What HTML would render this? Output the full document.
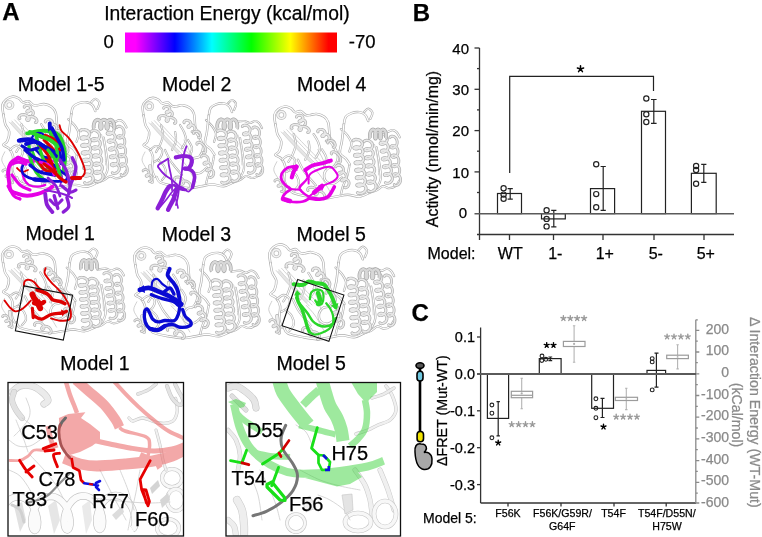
<!DOCTYPE html>
<html><head><meta charset="utf-8">
<style>
html,body{margin:0;padding:0;background:#fff;}
body{width:762px;height:537px;overflow:hidden;}
svg{display:block;will-change:transform;}
text{font-family:"Liberation Sans",sans-serif;stroke:currentColor;stroke-width:0.25px;}
</style></head>
<body>
<svg width="762" height="537" viewBox="0 0 762 537">
<defs>
<linearGradient id="cb" x1="0" x2="1" y1="0" y2="0">
<stop offset="0" stop-color="#ff00ff"/>
<stop offset="0.05" stop-color="#ff00ff"/>
<stop offset="0.235" stop-color="#0000ff"/>
<stop offset="0.41" stop-color="#00ffff"/>
<stop offset="0.596" stop-color="#00ff00"/>
<stop offset="0.78" stop-color="#ffff00"/>
<stop offset="0.96" stop-color="#ff0000"/>
<stop offset="1" stop-color="#ff0000"/>
</linearGradient>
</defs>
<defs><g id="prot" fill="none" stroke-linecap="round" stroke-linejoin="round"><path d="M143.6 115.5C143.4 114.0 142.2 108.7 142.7 106.2C143.2 103.7 144.7 102.0 146.4 100.6C148.1 99.2 150.9 97.9 152.9 97.8C154.9 97.7 156.9 98.8 158.5 99.7C160.1 100.6 160.6 103.0 162.2 103.4C163.8 103.9 166.1 101.9 167.8 102.4C169.5 102.9 170.9 105.6 172.5 106.2C174.1 106.8 175.4 106.4 177.1 106.2C178.8 106.0 180.5 104.9 182.7 105.2C184.9 105.5 188.2 106.6 190.1 108.0C192.0 109.4 193.1 111.4 193.9 113.6C194.7 115.8 194.5 118.6 194.8 121.1C195.1 123.6 194.9 126.7 195.7 128.5C196.5 130.3 198.9 131.6 199.5 132.2" stroke="#aeaeae" stroke-width="2.4" fill="none"/><path d="M143.6 115.5C143.4 114.0 142.2 108.7 142.7 106.2C143.2 103.7 144.7 102.0 146.4 100.6C148.1 99.2 150.9 97.9 152.9 97.8C154.9 97.7 156.9 98.8 158.5 99.7C160.1 100.6 160.6 103.0 162.2 103.4C163.8 103.9 166.1 101.9 167.8 102.4C169.5 102.9 170.9 105.6 172.5 106.2C174.1 106.8 175.4 106.4 177.1 106.2C178.8 106.0 180.5 104.9 182.7 105.2C184.9 105.5 188.2 106.6 190.1 108.0C192.0 109.4 193.1 111.4 193.9 113.6C194.7 115.8 194.5 118.6 194.8 121.1C195.1 123.6 194.9 126.7 195.7 128.5C196.5 130.3 198.9 131.6 199.5 132.2" stroke="#ffffff" stroke-width="1.2" fill="none"/><path d="M143.6 115.5C143.9 117.0 144.5 122.0 145.4 124.8C146.3 127.6 148.9 129.4 149.2 132.2C149.5 135.0 148.2 139.4 147.3 141.6C146.4 143.8 143.3 144.1 143.6 145.3C143.9 146.5 147.6 147.1 149.2 149.0C150.8 150.9 152.4 153.1 152.9 156.5C153.4 159.9 151.7 166.1 152.0 169.5C152.3 172.9 154.3 175.7 154.8 176.9" stroke="#aeaeae" stroke-width="2.4" fill="none"/><path d="M143.6 115.5C143.9 117.0 144.5 122.0 145.4 124.8C146.3 127.6 148.9 129.4 149.2 132.2C149.5 135.0 148.2 139.4 147.3 141.6C146.4 143.8 143.3 144.1 143.6 145.3C143.9 146.5 147.6 147.1 149.2 149.0C150.8 150.9 152.4 153.1 152.9 156.5C153.4 159.9 151.7 166.1 152.0 169.5C152.3 172.9 154.3 175.7 154.8 176.9" stroke="#ffffff" stroke-width="1.2" fill="none"/><path d="M156.6 176.9C157.2 177.8 157.2 180.9 160.3 182.5C163.4 184.1 170.2 185.3 175.2 186.2C180.2 187.1 185.8 188.1 190.1 188.1C194.4 188.1 197.6 186.8 201.3 186.2C205.0 185.6 208.8 184.4 212.5 184.4C216.2 184.4 220.3 186.5 223.7 186.2C227.1 185.9 231.4 183.1 233.0 182.5" stroke="#aeaeae" stroke-width="2.4" fill="none"/><path d="M156.6 176.9C157.2 177.8 157.2 180.9 160.3 182.5C163.4 184.1 170.2 185.3 175.2 186.2C180.2 187.1 185.8 188.1 190.1 188.1C194.4 188.1 197.6 186.8 201.3 186.2C205.0 185.6 208.8 184.4 212.5 184.4C216.2 184.4 220.3 186.5 223.7 186.2C227.1 185.9 231.4 183.1 233.0 182.5" stroke="#ffffff" stroke-width="1.2" fill="none"/><path d="M195.7 132.2C196.3 133.1 198.2 135.3 199.5 137.8C200.8 140.3 203.2 144.0 203.2 147.1C203.2 150.2 201.1 154.6 199.5 156.5C197.9 158.4 195.5 157.1 193.9 158.3C192.3 159.5 190.4 161.7 190.1 163.9C189.8 166.1 190.4 169.8 192.0 171.3C193.6 172.9 197.0 173.8 199.5 173.2C202.0 172.6 205.7 168.5 206.9 167.6" stroke="#aeaeae" stroke-width="2.4" fill="none"/><path d="M195.7 132.2C196.3 133.1 198.2 135.3 199.5 137.8C200.8 140.3 203.2 144.0 203.2 147.1C203.2 150.2 201.1 154.6 199.5 156.5C197.9 158.4 195.5 157.1 193.9 158.3C192.3 159.5 190.4 161.7 190.1 163.9C189.8 166.1 190.4 169.8 192.0 171.3C193.6 172.9 197.0 173.8 199.5 173.2C202.0 172.6 205.7 168.5 206.9 167.6" stroke="#ffffff" stroke-width="1.2" fill="none"/><path d="M175.2 132.2C175.3 133.2 176.0 136.1 176.0 138.0C176.0 139.9 175.9 141.4 175.2 143.4C174.5 145.4 172.5 148.9 172.0 150.0" stroke="#aeaeae" stroke-width="2.2" fill="none"/><path d="M175.2 132.2C175.3 133.2 176.0 136.1 176.0 138.0C176.0 139.9 175.9 141.4 175.2 143.4C174.5 145.4 172.5 148.9 172.0 150.0" stroke="#ffffff" stroke-width="1.0" fill="none"/><path d="M161.0 125.0C161.3 126.7 163.2 131.7 163.0 135.0C162.8 138.3 161.2 142.2 160.0 145.0C158.8 147.8 156.7 150.8 156.0 152.0" stroke="#aeaeae" stroke-width="2.2" fill="none"/><path d="M161.0 125.0C161.3 126.7 163.2 131.7 163.0 135.0C162.8 138.3 161.2 142.2 160.0 145.0C158.8 147.8 156.7 150.8 156.0 152.0" stroke="#ffffff" stroke-width="1.0" fill="none"/><path d="M149.2 122.8C151.8 125.7 159.7 134.4 165.0 140.0C170.3 145.6 178.2 153.8 180.8 156.5" stroke="#c2c2c2" stroke-width="0.7" fill="none"/><path d="M151.8 121.8C154.4 124.6 162.3 133.3 167.6 139.0C172.9 144.6 180.8 152.7 183.4 155.5" stroke="#c2c2c2" stroke-width="0.7" fill="none"/><path d="M154.4 120.7C157.0 123.6 164.9 132.3 170.2 137.9C175.5 143.5 183.4 151.7 186.0 154.4" stroke="#c2c2c2" stroke-width="0.7" fill="none"/><path d="M157.0 119.7C159.6 122.5 167.5 131.3 172.8 136.9C178.1 142.5 186.0 150.6 188.6 153.4" stroke="#c2c2c2" stroke-width="0.7" fill="none"/><path d="M152.0 124.0C154.3 126.7 161.7 135.3 166.0 140.0C170.3 144.7 176.0 150.0 178.0 152.0" stroke="#dcdcdc" stroke-width="3.2" fill="none" opacity="0.7"/><path d="M178.0 156.0C179.3 157.5 183.7 161.8 186.0 165.0C188.3 168.2 190.3 172.2 192.0 175.0C193.7 177.8 195.3 180.8 196.0 182.0" stroke="#c6c6c6" stroke-width="0.8" fill="none"/><path d="M150.0 150.0C151.0 149.3 154.0 146.0 156.0 146.0C158.0 146.0 161.3 148.0 162.0 150.0C162.7 152.0 161.3 156.0 160.0 158.0C158.7 160.0 155.0 161.3 154.0 162.0" stroke="#aeaeae" stroke-width="2.2" fill="none"/><path d="M150.0 150.0C151.0 149.3 154.0 146.0 156.0 146.0C158.0 146.0 161.3 148.0 162.0 150.0C162.7 152.0 161.3 156.0 160.0 158.0C158.7 160.0 155.0 161.3 154.0 162.0" stroke="#ffffff" stroke-width="1.0" fill="none"/><path d="M158.0 160.0C159.0 161.0 162.7 163.7 164.0 166.0C165.3 168.3 166.3 171.7 166.0 174.0C165.7 176.3 162.7 179.0 162.0 180.0" stroke="#aeaeae" stroke-width="2.2" fill="none"/><path d="M158.0 160.0C159.0 161.0 162.7 163.7 164.0 166.0C165.3 168.3 166.3 171.7 166.0 174.0C165.7 176.3 162.7 179.0 162.0 180.0" stroke="#ffffff" stroke-width="1.0" fill="none"/><path d="M180.0 125.0C180.7 126.2 183.0 129.5 184.0 132.0C185.0 134.5 186.3 137.3 186.0 140.0C185.7 142.7 182.7 146.7 182.0 148.0" stroke="#aeaeae" stroke-width="2.2" fill="none"/><path d="M180.0 125.0C180.7 126.2 183.0 129.5 184.0 132.0C185.0 134.5 186.3 137.3 186.0 140.0C185.7 142.7 182.7 146.7 182.0 148.0" stroke="#ffffff" stroke-width="1.0" fill="none"/><path d="M165.0 150.0C165.8 151.7 168.2 157.0 170.0 160.0C171.8 163.0 174.0 165.5 176.0 168.0C178.0 170.5 181.0 173.8 182.0 175.0" stroke="#aeaeae" stroke-width="2.2" fill="none"/><path d="M165.0 150.0C165.8 151.7 168.2 157.0 170.0 160.0C171.8 163.0 174.0 165.5 176.0 168.0C178.0 170.5 181.0 173.8 182.0 175.0" stroke="#ffffff" stroke-width="1.0" fill="none"/><path d="M188.0 140.0C188.7 141.3 191.7 145.3 192.0 148.0C192.3 150.7 190.3 154.7 190.0 156.0" stroke="#aeaeae" stroke-width="2.2" fill="none"/><path d="M188.0 140.0C188.7 141.3 191.7 145.3 192.0 148.0C192.3 150.7 190.3 154.7 190.0 156.0" stroke="#ffffff" stroke-width="1.0" fill="none"/><path d="M150.0 166.0C150.2 167.3 150.7 171.3 151.0 174.0C151.3 176.7 151.8 180.7 152.0 182.0" stroke="#aeaeae" stroke-width="3.6" fill="none"/><path d="M150.0 166.0C150.2 167.3 150.7 171.3 151.0 174.0C151.3 176.7 151.8 180.7 152.0 182.0" stroke="#eeeeee" stroke-width="2.4" fill="none"/><path d="M206.0 120.0C207.0 121.0 210.3 123.7 212.0 126.0C213.7 128.3 215.7 131.3 216.0 134.0C216.3 136.7 214.3 140.7 214.0 142.0" stroke="#aeaeae" stroke-width="2.2" fill="none"/><path d="M206.0 120.0C207.0 121.0 210.3 123.7 212.0 126.0C213.7 128.3 215.7 131.3 216.0 134.0C216.3 136.7 214.3 140.7 214.0 142.0" stroke="#ffffff" stroke-width="1.0" fill="none"/><path d="M240.0 178.0C240.7 176.3 243.7 172.7 244.0 168.0C244.3 163.3 242.7 155.0 242.0 150.0C241.3 145.0 240.3 140.0 240.0 138.0" stroke="#aeaeae" stroke-width="2.2" fill="none"/><path d="M240.0 178.0C240.7 176.3 243.7 172.7 244.0 168.0C244.3 163.3 242.7 155.0 242.0 150.0C241.3 145.0 240.3 140.0 240.0 138.0" stroke="#ffffff" stroke-width="1.0" fill="none"/><path d="M184.0 140.0C184.8 141.7 187.7 146.7 189.0 150.0C190.3 153.3 191.5 158.3 192.0 160.0" stroke="#c6c6c6" stroke-width="0.8" fill="none"/><path d="M145.0 152.0C144.5 153.3 141.8 157.3 142.0 160.0C142.2 162.7 145.3 166.7 146.0 168.0" stroke="#c6c6c6" stroke-width="0.8" fill="none"/><path d="M208.8 115.5C209.1 114.2 209.4 109.9 210.6 108.0C211.8 106.1 214.0 105.1 216.2 104.3C218.4 103.5 221.5 103.1 223.7 103.4C225.9 103.7 227.8 104.8 229.2 106.2C230.6 107.6 231.5 111.0 232.0 112.0" stroke="#aeaeae" stroke-width="2.4" fill="none"/><path d="M208.8 115.5C209.1 114.2 209.4 109.9 210.6 108.0C211.8 106.1 214.0 105.1 216.2 104.3C218.4 103.5 221.5 103.1 223.7 103.4C225.9 103.7 227.8 104.8 229.2 106.2C230.6 107.6 231.5 111.0 232.0 112.0" stroke="#ffffff" stroke-width="1.2" fill="none"/><path d="M208.8 115.5C208.5 118.3 207.5 127.5 206.9 132.2C206.3 136.8 204.4 140.6 205.0 143.4C205.6 146.2 209.0 147.1 210.6 149.0C212.2 150.9 213.8 153.7 214.4 154.6" stroke="#aeaeae" stroke-width="2.4" fill="none"/><path d="M208.8 115.5C208.5 118.3 207.5 127.5 206.9 132.2C206.3 136.8 204.4 140.6 205.0 143.4C205.6 146.2 209.0 147.1 210.6 149.0C212.2 150.9 213.8 153.7 214.4 154.6" stroke="#ffffff" stroke-width="1.2" fill="none"/><path d="M236.0 122.0C237.3 121.8 241.7 120.8 244.0 121.0C246.3 121.2 247.9 123.0 249.7 123.0C251.5 123.0 253.4 121.0 255.0 121.0C256.6 121.0 257.8 121.8 259.0 123.0C260.2 124.2 261.5 127.2 262.0 128.0" stroke="#aeaeae" stroke-width="2.2" fill="none"/><path d="M236.0 122.0C237.3 121.8 241.7 120.8 244.0 121.0C246.3 121.2 247.9 123.0 249.7 123.0C251.5 123.0 253.4 121.0 255.0 121.0C256.6 121.0 257.8 121.8 259.0 123.0C260.2 124.2 261.5 127.2 262.0 128.0" stroke="#ffffff" stroke-width="1.0" fill="none"/><path d="M233.0 182.5C234.2 182.1 237.8 181.1 240.0 180.0C242.2 178.9 244.0 176.3 246.0 176.0C248.0 175.7 250.0 178.0 252.0 178.0C254.0 178.0 256.3 177.3 258.0 176.0C259.7 174.7 261.3 171.0 262.0 170.0" stroke="#aeaeae" stroke-width="2.2" fill="none"/><path d="M233.0 182.5C234.2 182.1 237.8 181.1 240.0 180.0C242.2 178.9 244.0 176.3 246.0 176.0C248.0 175.7 250.0 178.0 252.0 178.0C254.0 178.0 256.3 177.3 258.0 176.0C259.7 174.7 261.3 171.0 262.0 170.0" stroke="#ffffff" stroke-width="1.0" fill="none"/><path d="M228.0 103.4C228.7 102.8 230.7 99.9 232.0 100.0C233.3 100.1 235.7 102.3 236.0 104.0C236.3 105.7 234.3 109.0 234.0 110.0" stroke="#aeaeae" stroke-width="2.2" fill="none"/><path d="M228.0 103.4C228.7 102.8 230.7 99.9 232.0 100.0C233.3 100.1 235.7 102.3 236.0 104.0C236.3 105.7 234.3 109.0 234.0 110.0" stroke="#ffffff" stroke-width="1.0" fill="none"/><path d="M214.0 156.0C213.7 157.7 213.0 162.7 212.0 166.0C211.0 169.3 209.0 173.0 208.0 176.0C207.0 179.0 206.3 182.7 206.0 184.0" stroke="#aeaeae" stroke-width="2.2" fill="none"/><path d="M214.0 156.0C213.7 157.7 213.0 162.7 212.0 166.0C211.0 169.3 209.0 173.0 208.0 176.0C207.0 179.0 206.3 182.7 206.0 184.0" stroke="#ffffff" stroke-width="1.0" fill="none"/><path d="M238.0 135.0C238.5 137.5 240.3 145.0 241.0 150.0C241.7 155.0 241.8 162.5 242.0 165.0" stroke="#c6c6c6" stroke-width="0.8" fill="none"/><circle cx="149.3" cy="106.2" r="3.4" fill="none" stroke="#bcbcbc" stroke-width="2.9"/><circle cx="149.3" cy="106.2" r="3.4" fill="none" stroke="#f3f3f3" stroke-width="1.6"/><path d="M163.7 108.3L163.7 107.8L164.1 107.3L164.8 106.9L165.8 106.5L166.8 106.5L167.9 106.7L168.9 107.2L169.5 108.0L169.8 109.0L169.8 110.0L169.4 111.1L168.8 112.0L168.0 112.6L167.2 112.9L166.6 113.0L166.2 112.8L166.2 112.3L166.6 111.8L167.3 111.4L168.2 111.0L169.3 111.0L170.4 111.2L171.4 111.7L172.0 112.5L172.3 113.5L172.3 114.5L171.9 115.6L171.2 116.5L170.5 117.1L169.7 117.4L169.1 117.5L168.7 117.3" fill="none" stroke="#aeaeae" stroke-width="2.9" stroke-linejoin="round"/><path d="M163.7 108.3L163.7 107.8L164.1 107.3L164.8 106.9L165.8 106.5L166.8 106.5L167.9 106.7L168.9 107.2L169.5 108.0L169.8 109.0L169.8 110.0L169.4 111.1L168.8 112.0L168.0 112.6L167.2 112.9L166.6 113.0L166.2 112.8L166.2 112.3L166.6 111.8L167.3 111.4L168.2 111.0L169.3 111.0L170.4 111.2L171.4 111.7L172.0 112.5L172.3 113.5L172.3 114.5L171.9 115.6L171.2 116.5L170.5 117.1L169.7 117.4L169.1 117.5L168.7 117.3" fill="none" stroke="#e9e9e9" stroke-width="1.6" stroke-linejoin="round"/><path d="M159.4 119.3L158.9 119.0L158.6 118.4L158.7 117.6L159.2 116.8L160.2 116.1L161.4 115.6L162.8 115.5L164.4 115.7L165.8 116.3L167.0 117.1L167.8 118.1L168.2 119.2L168.3 120.2L168.0 120.9L167.5 121.3L166.9 121.3L166.4 121.0L166.1 120.4L166.2 119.6L166.8 118.8L167.7 118.1L168.9 117.6L170.3 117.5L171.9 117.7L173.3 118.3L174.5 119.1L175.3 120.1L175.8 121.2L175.8 122.2L175.5 122.9L175.0 123.3L174.4 123.3" fill="none" stroke="#aeaeae" stroke-width="2.9" stroke-linejoin="round"/><path d="M159.4 119.3L158.9 119.0L158.6 118.4L158.7 117.6L159.2 116.8L160.2 116.1L161.4 115.6L162.8 115.5L164.4 115.7L165.8 116.3L167.0 117.1L167.8 118.1L168.2 119.2L168.3 120.2L168.0 120.9L167.5 121.3L166.9 121.3L166.4 121.0L166.1 120.4L166.2 119.6L166.8 118.8L167.7 118.1L168.9 117.6L170.3 117.5L171.9 117.7L173.3 118.3L174.5 119.1L175.3 120.1L175.8 121.2L175.8 122.2L175.5 122.9L175.0 123.3L174.4 123.3" fill="none" stroke="#e9e9e9" stroke-width="1.6" stroke-linejoin="round"/><path d="M184.1 122.7L183.9 122.3L184.1 121.7L184.7 121.0L185.6 120.5L186.7 120.3L187.9 120.4L189.0 120.8L189.9 121.5L190.6 122.5L190.9 123.7L190.8 124.9L190.4 126.0L189.8 126.8L189.1 127.3L188.5 127.4L188.1 127.2L187.9 126.8L188.1 126.2L188.7 125.5L189.6 125.0L190.7 124.8L191.9 124.9L193.0 125.3L193.9 126.0L194.6 127.0L194.9 128.2L194.8 129.4L194.4 130.4L193.8 131.3L193.1 131.8L192.5 131.9L192.1 131.7" fill="none" stroke="#aeaeae" stroke-width="2.9" stroke-linejoin="round"/><path d="M184.1 122.7L183.9 122.3L184.1 121.7L184.7 121.0L185.6 120.5L186.7 120.3L187.9 120.4L189.0 120.8L189.9 121.5L190.6 122.5L190.9 123.7L190.8 124.9L190.4 126.0L189.8 126.8L189.1 127.3L188.5 127.4L188.1 127.2L187.9 126.8L188.1 126.2L188.7 125.5L189.6 125.0L190.7 124.8L191.9 124.9L193.0 125.3L193.9 126.0L194.6 127.0L194.9 128.2L194.8 129.4L194.4 130.4L193.8 131.3L193.1 131.8L192.5 131.9L192.1 131.7" fill="none" stroke="#e9e9e9" stroke-width="1.6" stroke-linejoin="round"/><path d="M193.6 133.7L193.4 133.3L193.4 132.7L193.8 132.1L194.5 131.6L195.5 131.3L196.6 131.3L197.8 131.6L198.9 132.3L199.8 133.2L200.3 134.3L200.6 135.4L200.5 136.4L200.2 137.2L199.6 137.7L199.1 137.9L198.6 137.7" fill="none" stroke="#aeaeae" stroke-width="2.7" stroke-linejoin="round"/><path d="M193.6 133.7L193.4 133.3L193.4 132.7L193.8 132.1L194.5 131.6L195.5 131.3L196.6 131.3L197.8 131.6L198.9 132.3L199.8 133.2L200.3 134.3L200.6 135.4L200.5 136.4L200.2 137.2L199.6 137.7L199.1 137.9L198.6 137.7" fill="none" stroke="#e9e9e9" stroke-width="1.4" stroke-linejoin="round"/><path d="M197.1 144.4L196.8 143.8L196.9 143.0L197.5 142.5L198.4 142.2L199.7 142.4L201.1 143.0L202.6 144.1L203.9 145.6L205.0 147.2L205.6 149.0L205.8 150.5L205.6 151.8L205.1 152.6L204.4 153.0L203.7 152.9L203.1 152.4" fill="none" stroke="#aeaeae" stroke-width="2.7" stroke-linejoin="round"/><path d="M197.1 144.4L196.8 143.8L196.9 143.0L197.5 142.5L198.4 142.2L199.7 142.4L201.1 143.0L202.6 144.1L203.9 145.6L205.0 147.2L205.6 149.0L205.8 150.5L205.6 151.8L205.1 152.6L204.4 153.0L203.7 152.9L203.1 152.4" fill="none" stroke="#e9e9e9" stroke-width="1.4" stroke-linejoin="round"/><path d="M217.8 131.3L218.1 130.8L219.0 130.3L220.3 130.1L221.9 130.3L223.6 130.8L225.0 131.7L226.0 132.9L226.5 134.3L226.3 135.8L225.5 137.1L224.2 138.2L222.6 139.0L221.0 139.4L219.7 139.4L218.7 139.1L218.4 138.6L218.7 138.1L219.5 137.6L220.9 137.4L222.5 137.6L224.2 138.1L225.6 139.0L226.6 140.2L227.0 141.6L226.8 143.1L226.0 144.4L224.8 145.5L223.2 146.3L221.6 146.7L220.3 146.7L219.3 146.4L219.0 145.9L219.2 145.4L220.1 144.9L221.5 144.7L223.1 144.8L224.7 145.4L226.2 146.3L227.2 147.5L227.6 148.9L227.4 150.3L226.6 151.7L225.3 152.8L223.8 153.6L222.2 154.0L220.8 154.0L219.9 153.7L219.5 153.2L219.8 152.6L220.7 152.2L222.0 152.0L223.7 152.1L225.3 152.7L226.7 153.6L227.8 154.8L228.2 156.2L228.0 157.6L227.2 159.0L225.9 160.1L224.3 160.9L222.8 161.3L221.4 161.3L220.5 161.0L220.1 160.5L220.4 159.9L221.3 159.5L222.6 159.3L224.2 159.4L225.9 159.9L227.3 160.8L228.3 162.1L228.8 163.5L228.6 164.9L227.7 166.3L226.5 167.4L224.9 168.2L223.3 168.5L222.0 168.6L221.0 168.3L220.7 167.8L220.9 167.2L221.8 166.8L223.2 166.6L224.8 166.7L226.5 167.2L227.9 168.1L228.9 169.3L229.3 170.7L229.1 172.2L228.3 173.6L227.0 174.7L225.5 175.4L223.9 175.8L222.5 175.8L221.6 175.5L221.2 175.0L221.5 174.5L222.4 174.1L223.7 173.9L225.4 174.0L227.0 174.5L228.5 175.4L229.5 176.6L229.9 178.0L229.7 179.5L228.9 180.8L227.6 182.0L226.1 182.7L224.5 183.1L223.1 183.1L222.2 182.8L221.8 182.3" fill="none" stroke="#aeaeae" stroke-width="3.1" stroke-linejoin="round"/><path d="M217.8 131.3L218.1 130.8L219.0 130.3L220.3 130.1L221.9 130.3L223.6 130.8L225.0 131.7L226.0 132.9L226.5 134.3L226.3 135.8L225.5 137.1L224.2 138.2L222.6 139.0L221.0 139.4L219.7 139.4L218.7 139.1L218.4 138.6L218.7 138.1L219.5 137.6L220.9 137.4L222.5 137.6L224.2 138.1L225.6 139.0L226.6 140.2L227.0 141.6L226.8 143.1L226.0 144.4L224.8 145.5L223.2 146.3L221.6 146.7L220.3 146.7L219.3 146.4L219.0 145.9L219.2 145.4L220.1 144.9L221.5 144.7L223.1 144.8L224.7 145.4L226.2 146.3L227.2 147.5L227.6 148.9L227.4 150.3L226.6 151.7L225.3 152.8L223.8 153.6L222.2 154.0L220.8 154.0L219.9 153.7L219.5 153.2L219.8 152.6L220.7 152.2L222.0 152.0L223.7 152.1L225.3 152.7L226.7 153.6L227.8 154.8L228.2 156.2L228.0 157.6L227.2 159.0L225.9 160.1L224.3 160.9L222.8 161.3L221.4 161.3L220.5 161.0L220.1 160.5L220.4 159.9L221.3 159.5L222.6 159.3L224.2 159.4L225.9 159.9L227.3 160.8L228.3 162.1L228.8 163.5L228.6 164.9L227.7 166.3L226.5 167.4L224.9 168.2L223.3 168.5L222.0 168.6L221.0 168.3L220.7 167.8L220.9 167.2L221.8 166.8L223.2 166.6L224.8 166.7L226.5 167.2L227.9 168.1L228.9 169.3L229.3 170.7L229.1 172.2L228.3 173.6L227.0 174.7L225.5 175.4L223.9 175.8L222.5 175.8L221.6 175.5L221.2 175.0L221.5 174.5L222.4 174.1L223.7 173.9L225.4 174.0L227.0 174.5L228.5 175.4L229.5 176.6L229.9 178.0L229.7 179.5L228.9 180.8L227.6 182.0L226.1 182.7L224.5 183.1L223.1 183.1L222.2 182.8L221.8 182.3" fill="none" stroke="#e9e9e9" stroke-width="1.8" stroke-linejoin="round"/><path d="M228.2 132.3L228.5 131.7L229.2 131.2L230.5 131.0L231.9 131.2L233.4 131.8L234.8 132.8L235.7 134.1L236.1 135.7L236.0 137.3L235.3 138.8L234.1 140.0L232.7 140.8L231.3 141.2L230.1 141.2L229.2 140.9L228.9 140.3L229.1 139.7L229.9 139.2L231.1 139.0L232.6 139.2L234.1 139.8L235.4 140.8L236.4 142.1L236.8 143.7L236.6 145.3L235.9 146.8L234.8 148.0L233.4 148.8L232.0 149.2L230.7 149.2L229.9 148.9L229.5 148.3L229.8 147.7L230.6 147.2L231.8 147.0L233.3 147.2L234.8 147.8L236.1 148.8L237.0 150.1L237.5 151.7L237.3 153.3L236.6 154.8L235.5 156.0L234.1 156.8L232.6 157.2L231.4 157.2L230.5 156.9L230.2 156.3L230.5 155.7L231.2 155.2L232.5 155.0L233.9 155.2L235.4 155.8L236.8 156.8L237.7 158.1L238.1 159.7L238.0 161.3L237.3 162.8L236.1 164.0L234.7 164.8L233.3 165.2L232.1 165.2L231.2 164.9L230.9 164.3L231.1 163.7L231.9 163.2L233.1 163.0L234.6 163.2L236.1 163.8L237.4 164.8L238.4 166.1L238.8 167.7L238.6 169.3L237.9 170.8L236.8 172.0L235.4 172.8L234.0 173.2L232.7 173.2L231.9 172.9L231.5 172.3L231.8 171.7L232.6 171.2L233.8 171.0L235.3 171.2L236.8 171.8L238.1 172.8L239.0 174.1L239.5 175.7L239.3 177.3L238.6 178.8L237.5 180.0L236.1 180.8L234.6 181.2L233.4 181.2L232.5 180.9L232.2 180.3" fill="none" stroke="#aeaeae" stroke-width="2.9" stroke-linejoin="round"/><path d="M228.2 132.3L228.5 131.7L229.2 131.2L230.5 131.0L231.9 131.2L233.4 131.8L234.8 132.8L235.7 134.1L236.1 135.7L236.0 137.3L235.3 138.8L234.1 140.0L232.7 140.8L231.3 141.2L230.1 141.2L229.2 140.9L228.9 140.3L229.1 139.7L229.9 139.2L231.1 139.0L232.6 139.2L234.1 139.8L235.4 140.8L236.4 142.1L236.8 143.7L236.6 145.3L235.9 146.8L234.8 148.0L233.4 148.8L232.0 149.2L230.7 149.2L229.9 148.9L229.5 148.3L229.8 147.7L230.6 147.2L231.8 147.0L233.3 147.2L234.8 147.8L236.1 148.8L237.0 150.1L237.5 151.7L237.3 153.3L236.6 154.8L235.5 156.0L234.1 156.8L232.6 157.2L231.4 157.2L230.5 156.9L230.2 156.3L230.5 155.7L231.2 155.2L232.5 155.0L233.9 155.2L235.4 155.8L236.8 156.8L237.7 158.1L238.1 159.7L238.0 161.3L237.3 162.8L236.1 164.0L234.7 164.8L233.3 165.2L232.1 165.2L231.2 164.9L230.9 164.3L231.1 163.7L231.9 163.2L233.1 163.0L234.6 163.2L236.1 163.8L237.4 164.8L238.4 166.1L238.8 167.7L238.6 169.3L237.9 170.8L236.8 172.0L235.4 172.8L234.0 173.2L232.7 173.2L231.9 172.9L231.5 172.3L231.8 171.7L232.6 171.2L233.8 171.0L235.3 171.2L236.8 171.8L238.1 172.8L239.0 174.1L239.5 175.7L239.3 177.3L238.6 178.8L237.5 180.0L236.1 180.8L234.6 181.2L233.4 181.2L232.5 180.9L232.2 180.3" fill="none" stroke="#e9e9e9" stroke-width="1.6" stroke-linejoin="round"/><path d="M242.4 126.5L242.6 125.9L243.4 125.4L244.5 125.1L245.9 125.2L247.4 125.7L248.7 126.6L249.6 127.9L250.1 129.4L250.0 130.9L249.4 132.4L248.4 133.6L247.1 134.4L245.8 134.9L244.6 134.9L243.8 134.6L243.4 134.1L243.6 133.5L244.4 133.1L245.5 132.8L246.9 132.9L248.4 133.4L249.7 134.3L250.6 135.6L251.1 137.0L251.0 138.6L250.4 140.0L249.4 141.2L248.1 142.1L246.8 142.6L245.6 142.6L244.8 142.3L244.4 141.8L244.6 141.2L245.4 140.7L246.5 140.5L247.9 140.6L249.4 141.1L250.7 142.0L251.6 143.2L252.1 144.7L252.0 146.2L251.4 147.7L250.4 148.9L249.1 149.8L247.8 150.2L246.6 150.3L245.8 150.0L245.4 149.5L245.6 148.9L246.4 148.4L247.5 148.1L248.9 148.2L250.4 148.7L251.7 149.6L252.6 150.9L253.1 152.4L253.0 153.9L252.4 155.4L251.4 156.6L250.1 157.4L248.8 157.9L247.6 157.9L246.8 157.6L246.4 157.1L246.6 156.5L247.4 156.1L248.5 155.8L249.9 155.9L251.4 156.4L252.7 157.3L253.6 158.6L254.1 160.0L254.0 161.6L253.4 163.0L252.4 164.2L251.1 165.1L249.8 165.6L248.6 165.6L247.8 165.3L247.4 164.8L247.6 164.2L248.4 163.7L249.5 163.5L250.9 163.6L252.4 164.1L253.7 165.0L254.6 166.2L255.1 167.7L255.0 169.2L254.4 170.7L253.4 171.9L252.1 172.8L250.8 173.2L249.6 173.3L248.8 173.0L248.4 172.5" fill="none" stroke="#aeaeae" stroke-width="2.9" stroke-linejoin="round"/><path d="M242.4 126.5L242.6 125.9L243.4 125.4L244.5 125.1L245.9 125.2L247.4 125.7L248.7 126.6L249.6 127.9L250.1 129.4L250.0 130.9L249.4 132.4L248.4 133.6L247.1 134.4L245.8 134.9L244.6 134.9L243.8 134.6L243.4 134.1L243.6 133.5L244.4 133.1L245.5 132.8L246.9 132.9L248.4 133.4L249.7 134.3L250.6 135.6L251.1 137.0L251.0 138.6L250.4 140.0L249.4 141.2L248.1 142.1L246.8 142.6L245.6 142.6L244.8 142.3L244.4 141.8L244.6 141.2L245.4 140.7L246.5 140.5L247.9 140.6L249.4 141.1L250.7 142.0L251.6 143.2L252.1 144.7L252.0 146.2L251.4 147.7L250.4 148.9L249.1 149.8L247.8 150.2L246.6 150.3L245.8 150.0L245.4 149.5L245.6 148.9L246.4 148.4L247.5 148.1L248.9 148.2L250.4 148.7L251.7 149.6L252.6 150.9L253.1 152.4L253.0 153.9L252.4 155.4L251.4 156.6L250.1 157.4L248.8 157.9L247.6 157.9L246.8 157.6L246.4 157.1L246.6 156.5L247.4 156.1L248.5 155.8L249.9 155.9L251.4 156.4L252.7 157.3L253.6 158.6L254.1 160.0L254.0 161.6L253.4 163.0L252.4 164.2L251.1 165.1L249.8 165.6L248.6 165.6L247.8 165.3L247.4 164.8L247.6 164.2L248.4 163.7L249.5 163.5L250.9 163.6L252.4 164.1L253.7 165.0L254.6 166.2L255.1 167.7L255.0 169.2L254.4 170.7L253.4 171.9L252.1 172.8L250.8 173.2L249.6 173.3L248.8 173.0L248.4 172.5" fill="none" stroke="#e9e9e9" stroke-width="1.6" stroke-linejoin="round"/><path d="M252.8 128.3L253.0 127.6L253.6 127.1L254.7 126.9L255.9 127.1L257.2 127.8L258.4 129.0L259.2 130.5L259.6 132.3L259.5 134.2L259.0 135.8L258.0 137.2L256.9 138.1L255.7 138.6L254.6 138.5L253.9 138.1L253.6 137.5L253.8 136.8L254.4 136.3L255.5 136.1L256.7 136.3L258.0 137.0L259.2 138.2L260.0 139.7L260.4 141.5L260.3 143.4L259.8 145.0L258.8 146.4L257.7 147.3L256.5 147.8L255.4 147.7L254.7 147.3L254.4 146.7L254.6 146.0L255.2 145.5L256.3 145.3L257.5 145.5L258.8 146.2L260.0 147.4L260.8 148.9L261.2 150.7L261.1 152.6L260.6 154.2L259.6 155.6L258.5 156.5L257.3 157.0L256.2 156.9L255.5 156.5L255.2 155.9L255.4 155.2L256.0 154.7L257.1 154.5L258.3 154.7L259.6 155.4L260.8 156.6L261.6 158.1L262.0 159.9L261.9 161.8L261.4 163.4L260.4 164.8L259.3 165.7L258.1 166.2L257.0 166.1L256.3 165.7L256.0 165.1L256.2 164.4L256.8 163.9L257.9 163.7L259.1 163.9L260.4 164.6L261.6 165.8L262.4 167.3L262.8 169.1L262.7 171.0L262.2 172.6L261.2 174.0L260.1 174.9L258.9 175.4L257.8 175.3L257.1 174.9L256.8 174.3" fill="none" stroke="#aeaeae" stroke-width="2.7" stroke-linejoin="round"/><path d="M252.8 128.3L253.0 127.6L253.6 127.1L254.7 126.9L255.9 127.1L257.2 127.8L258.4 129.0L259.2 130.5L259.6 132.3L259.5 134.2L259.0 135.8L258.0 137.2L256.9 138.1L255.7 138.6L254.6 138.5L253.9 138.1L253.6 137.5L253.8 136.8L254.4 136.3L255.5 136.1L256.7 136.3L258.0 137.0L259.2 138.2L260.0 139.7L260.4 141.5L260.3 143.4L259.8 145.0L258.8 146.4L257.7 147.3L256.5 147.8L255.4 147.7L254.7 147.3L254.4 146.7L254.6 146.0L255.2 145.5L256.3 145.3L257.5 145.5L258.8 146.2L260.0 147.4L260.8 148.9L261.2 150.7L261.1 152.6L260.6 154.2L259.6 155.6L258.5 156.5L257.3 157.0L256.2 156.9L255.5 156.5L255.2 155.9L255.4 155.2L256.0 154.7L257.1 154.5L258.3 154.7L259.6 155.4L260.8 156.6L261.6 158.1L262.0 159.9L261.9 161.8L261.4 163.4L260.4 164.8L259.3 165.7L258.1 166.2L257.0 166.1L256.3 165.7L256.0 165.1L256.2 164.4L256.8 163.9L257.9 163.7L259.1 163.9L260.4 164.6L261.6 165.8L262.4 167.3L262.8 169.1L262.7 171.0L262.2 172.6L261.2 174.0L260.1 174.9L258.9 175.4L257.8 175.3L257.1 174.9L256.8 174.3" fill="none" stroke="#e9e9e9" stroke-width="1.4" stroke-linejoin="round"/><path d="M201.2 157.1L201.2 156.6L201.7 156.0L202.6 155.5L203.7 155.3L205.0 155.5L206.3 156.1L207.4 157.0L208.1 158.2L208.4 159.6L208.3 161.0L207.8 162.3L206.9 163.3L206.0 164.0L205.0 164.3L204.3 164.2L203.9 163.8L203.9 163.2L204.4 162.6L205.2 162.2L206.4 162.0L207.7 162.2L209.0 162.7L210.0 163.7L210.8 164.9L211.1 166.3L211.0 167.7L210.4 169.0L209.6 170.0L208.6 170.7L207.7 170.9L207.0 170.8L206.5 170.4L206.6 169.9L207.0 169.3L207.9 168.9L209.1 168.7L210.4 168.8L211.6 169.4L212.7 170.3L213.5 171.6L213.8 172.9L213.6 174.4L213.1 175.6L212.3 176.7L211.3 177.3L210.4 177.6L209.6 177.5L209.2 177.1" fill="none" stroke="#aeaeae" stroke-width="2.7" stroke-linejoin="round"/><path d="M201.2 157.1L201.2 156.6L201.7 156.0L202.6 155.5L203.7 155.3L205.0 155.5L206.3 156.1L207.4 157.0L208.1 158.2L208.4 159.6L208.3 161.0L207.8 162.3L206.9 163.3L206.0 164.0L205.0 164.3L204.3 164.2L203.9 163.8L203.9 163.2L204.4 162.6L205.2 162.2L206.4 162.0L207.7 162.2L209.0 162.7L210.0 163.7L210.8 164.9L211.1 166.3L211.0 167.7L210.4 169.0L209.6 170.0L208.6 170.7L207.7 170.9L207.0 170.8L206.5 170.4L206.6 169.9L207.0 169.3L207.9 168.9L209.1 168.7L210.4 168.8L211.6 169.4L212.7 170.3L213.5 171.6L213.8 172.9L213.6 174.4L213.1 175.6L212.3 176.7L211.3 177.3L210.4 177.6L209.6 177.5L209.2 177.1" fill="none" stroke="#e9e9e9" stroke-width="1.4" stroke-linejoin="round"/><path d="M174.7 180.3L174.3 179.8L174.2 179.1L174.6 178.3L175.3 177.6L176.4 177.1L177.8 176.9L179.3 177.1L180.8 177.7L182.1 178.7L183.0 179.9L183.6 181.2L183.7 182.4L183.5 183.4L182.9 184.1L182.3 184.4L181.7 184.3L181.3 183.8L181.2 183.1L181.6 182.3L182.3 181.6L183.4 181.1L184.8 180.9L186.3 181.1L187.8 181.7L189.1 182.7L190.0 183.9L190.6 185.2L190.7 186.4L190.5 187.4L189.9 188.1L189.3 188.4L188.7 188.3" fill="none" stroke="#aeaeae" stroke-width="2.7" stroke-linejoin="round"/><path d="M174.7 180.3L174.3 179.8L174.2 179.1L174.6 178.3L175.3 177.6L176.4 177.1L177.8 176.9L179.3 177.1L180.8 177.7L182.1 178.7L183.0 179.9L183.6 181.2L183.7 182.4L183.5 183.4L182.9 184.1L182.3 184.4L181.7 184.3L181.3 183.8L181.2 183.1L181.6 182.3L182.3 181.6L183.4 181.1L184.8 180.9L186.3 181.1L187.8 181.7L189.1 182.7L190.0 183.9L190.6 185.2L190.7 186.4L190.5 187.4L189.9 188.1L189.3 188.4L188.7 188.3" fill="none" stroke="#e9e9e9" stroke-width="1.4" stroke-linejoin="round"/><path d="M143.1 171.1L143.0 170.7L143.3 170.2L143.9 169.8L144.7 169.5L145.7 169.5L146.7 169.8L147.7 170.5L148.4 171.4L148.8 172.4L149.0 173.6L148.8 174.6L148.3 175.5L147.7 176.1L147.0 176.4L146.5 176.4L146.1 176.1L146.0 175.7L146.3 175.2L146.9 174.8L147.7 174.5L148.7 174.5L149.7 174.8L150.7 175.5L151.4 176.4L151.8 177.4L152.0 178.6L151.8 179.6L151.3 180.5L150.7 181.1L150.0 181.4L149.5 181.4L149.1 181.1" fill="none" stroke="#aeaeae" stroke-width="2.5" stroke-linejoin="round"/><path d="M143.1 171.1L143.0 170.7L143.3 170.2L143.9 169.8L144.7 169.5L145.7 169.5L146.7 169.8L147.7 170.5L148.4 171.4L148.8 172.4L149.0 173.6L148.8 174.6L148.3 175.5L147.7 176.1L147.0 176.4L146.5 176.4L146.1 176.1L146.0 175.7L146.3 175.2L146.9 174.8L147.7 174.5L148.7 174.5L149.7 174.8L150.7 175.5L151.4 176.4L151.8 177.4L152.0 178.6L151.8 179.6L151.3 180.5L150.7 181.1L150.0 181.4L149.5 181.4L149.1 181.1" fill="none" stroke="#e9e9e9" stroke-width="1.2" stroke-linejoin="round"/></g></defs>
<use href="#prot" transform="translate(-145.96 -3.23) scale(1.04 1.02)"/>
<use href="#prot" transform="translate(0 0) scale(1 1)"/>
<use href="#prot" transform="translate(124.62 6.67) scale(1.05 1.02)"/>
<use href="#prot" transform="translate(-143.33 152.46) scale(1.02 0.96)"/>
<use href="#prot" transform="translate(-13.96 149.12) scale(1.04 1.005)"/>
<use href="#prot" transform="translate(120.33 141.67) scale(1.045 1.05)"/>
<path d="M94.5 128.9L94.0 128.5L93.7 127.6L93.6 126.1L93.9 124.3L94.4 122.5L95.3 121.0L96.4 120.1L97.7 119.7L98.9 120.1L100.0 121.0L100.9 122.5L101.5 124.3L101.7 126.1L101.6 127.6L101.3 128.5L100.8 128.9L100.4 128.5L100.1 127.6L100.0 126.1L100.2 124.3L100.8 122.5L101.6 121.0L102.8 120.1L104.0 119.7L105.2 120.1L106.4 121.0L107.2 122.5L107.8 124.3L108.0 126.1L107.9 127.6L107.6 128.5L107.2 128.9L106.7 128.5L106.4 127.6L106.3 126.1L106.5 124.3L107.1 122.5L108.0 121.0L109.1 120.1L110.3 119.7L111.6 120.1L112.7 121.0L113.6 122.5L114.1 124.3L114.4 126.1L114.3 127.6L114.0 128.5L113.5 128.9" fill="none" stroke="#a4a4a4" stroke-width="3.7" stroke-linejoin="round"/><path d="M94.5 128.9L94.0 128.5L93.7 127.6L93.6 126.1L93.9 124.3L94.4 122.5L95.3 121.0L96.4 120.1L97.7 119.7L98.9 120.1L100.0 121.0L100.9 122.5L101.5 124.3L101.7 126.1L101.6 127.6L101.3 128.5L100.8 128.9L100.4 128.5L100.1 127.6L100.0 126.1L100.2 124.3L100.8 122.5L101.6 121.0L102.8 120.1L104.0 119.7L105.2 120.1L106.4 121.0L107.2 122.5L107.8 124.3L108.0 126.1L107.9 127.6L107.6 128.5L107.2 128.9L106.7 128.5L106.4 127.6L106.3 126.1L106.5 124.3L107.1 122.5L108.0 121.0L109.1 120.1L110.3 119.7L111.6 120.1L112.7 121.0L113.6 122.5L114.1 124.3L114.4 126.1L114.3 127.6L114.0 128.5L113.5 128.9" fill="none" stroke="#d8d8d8" stroke-width="2.4" stroke-linejoin="round"/>
<path d="M218.1 128.5L217.6 128.1L217.3 127.2L217.2 125.7L217.4 123.9L218.0 122.1L218.8 120.6L219.9 119.7L221.1 119.3L222.3 119.7L223.4 120.6L224.3 122.1L224.8 123.9L225.1 125.7L225.0 127.2L224.7 128.1L224.2 128.5L223.8 128.1L223.5 127.2L223.4 125.7L223.6 123.9L224.1 122.1L225.0 120.6L226.1 119.7L227.3 119.3L228.5 119.7L229.6 120.6L230.5 122.1L231.0 123.9L231.2 125.7L231.1 127.2L230.8 128.1L230.4 128.5L229.9 128.1L229.6 127.2L229.5 125.7L229.8 123.9L230.3 122.1L231.2 120.6L232.3 119.7L233.5 119.3L234.7 119.7L235.8 120.6L236.6 122.1L237.2 123.9L237.4 125.7L237.3 127.2L237.0 128.1L236.6 128.5" fill="none" stroke="#a4a4a4" stroke-width="3.7" stroke-linejoin="round"/><path d="M218.1 128.5L217.6 128.1L217.3 127.2L217.2 125.7L217.4 123.9L218.0 122.1L218.8 120.6L219.9 119.7L221.1 119.3L222.3 119.7L223.4 120.6L224.3 122.1L224.8 123.9L225.1 125.7L225.0 127.2L224.7 128.1L224.2 128.5L223.8 128.1L223.5 127.2L223.4 125.7L223.6 123.9L224.1 122.1L225.0 120.6L226.1 119.7L227.3 119.3L228.5 119.7L229.6 120.6L230.5 122.1L231.0 123.9L231.2 125.7L231.1 127.2L230.8 128.1L230.4 128.5L229.9 128.1L229.6 127.2L229.5 125.7L229.8 123.9L230.3 122.1L231.2 120.6L232.3 119.7L233.5 119.3L234.7 119.7L235.8 120.6L236.6 122.1L237.2 123.9L237.4 125.7L237.3 127.2L237.0 128.1L236.6 128.5" fill="none" stroke="#d8d8d8" stroke-width="2.4" stroke-linejoin="round"/>
<path d="M370.5 138.6L370.1 138.2L369.9 137.3L369.8 135.8L370.0 134.0L370.4 132.2L371.1 130.7L372.0 129.8L373.0 129.4L374.0 129.8L374.9 130.7L375.6 132.2L376.0 134.0L376.2 135.8L376.1 137.3L375.9 138.2L375.5 138.6L375.1 138.2L374.9 137.3L374.8 135.8L375.0 134.0L375.4 132.2L376.1 130.7L377.0 129.8L378.0 129.4L379.0 129.8L379.9 130.7L380.6 132.2L381.0 134.0L381.2 135.8L381.1 137.3L380.9 138.2L380.5 138.6L380.1 138.2L379.9 137.3L379.8 135.8L380.0 134.0L380.4 132.2L381.1 130.7L382.0 129.8L383.0 129.4L384.0 129.8L384.9 130.7L385.6 132.2L386.0 134.0L386.2 135.8L386.1 137.3L385.9 138.2L385.5 138.6" fill="none" stroke="#a4a4a4" stroke-width="3.7" stroke-linejoin="round"/><path d="M370.5 138.6L370.1 138.2L369.9 137.3L369.8 135.8L370.0 134.0L370.4 132.2L371.1 130.7L372.0 129.8L373.0 129.4L374.0 129.8L374.9 130.7L375.6 132.2L376.0 134.0L376.2 135.8L376.1 137.3L375.9 138.2L375.5 138.6L375.1 138.2L374.9 137.3L374.8 135.8L375.0 134.0L375.4 132.2L376.1 130.7L377.0 129.8L378.0 129.4L379.0 129.8L379.9 130.7L380.6 132.2L381.0 134.0L381.2 135.8L381.1 137.3L380.9 138.2L380.5 138.6L380.1 138.2L379.9 137.3L379.8 135.8L380.0 134.0L380.4 132.2L381.1 130.7L382.0 129.8L383.0 129.4L384.0 129.8L384.9 130.7L385.6 132.2L386.0 134.0L386.2 135.8L386.1 137.3L385.9 138.2L385.5 138.6" fill="none" stroke="#d8d8d8" stroke-width="2.4" stroke-linejoin="round"/>
<path d="M81.5 269.2L81.1 268.8L80.9 267.9L80.8 266.4L81.0 264.6L81.4 262.8L82.1 261.3L83.0 260.4L84.0 260.0L85.0 260.4L85.9 261.3L86.6 262.8L87.0 264.6L87.2 266.4L87.1 267.9L86.9 268.8L86.5 269.2L86.1 268.8L85.9 267.9L85.8 266.4L86.0 264.6L86.4 262.8L87.1 261.3L88.0 260.4L89.0 260.0L90.0 260.4L90.9 261.3L91.6 262.8L92.0 264.6L92.2 266.4L92.1 267.9L91.9 268.8L91.5 269.2L91.1 268.8L90.9 267.9L90.8 266.4L91.0 264.6L91.4 262.8L92.1 261.3L93.0 260.4L94.0 260.0L95.0 260.4L95.9 261.3L96.6 262.8L97.0 264.6L97.2 266.4L97.1 267.9L96.9 268.8L96.5 269.2" fill="none" stroke="#a4a4a4" stroke-width="3.7" stroke-linejoin="round"/><path d="M81.5 269.2L81.1 268.8L80.9 267.9L80.8 266.4L81.0 264.6L81.4 262.8L82.1 261.3L83.0 260.4L84.0 260.0L85.0 260.4L85.9 261.3L86.6 262.8L87.0 264.6L87.2 266.4L87.1 267.9L86.9 268.8L86.5 269.2L86.1 268.8L85.9 267.9L85.8 266.4L86.0 264.6L86.4 262.8L87.1 261.3L88.0 260.4L89.0 260.0L90.0 260.4L90.9 261.3L91.6 262.8L92.0 264.6L92.2 266.4L92.1 267.9L91.9 268.8L91.5 269.2L91.1 268.8L90.9 267.9L90.8 266.4L91.0 264.6L91.4 262.8L92.1 261.3L93.0 260.4L94.0 260.0L95.0 260.4L95.9 261.3L96.6 262.8L97.0 264.6L97.2 266.4L97.1 267.9L96.9 268.8L96.5 269.2" fill="none" stroke="#d8d8d8" stroke-width="2.4" stroke-linejoin="round"/>
<path d="M212.0 271.2L211.6 270.8L211.3 269.9L211.2 268.4L211.4 266.6L211.9 264.8L212.8 263.3L213.8 262.4L215.0 262.0L216.2 262.4L217.2 263.3L218.1 264.8L218.6 266.6L218.8 268.4L218.7 269.9L218.4 270.8L218.0 271.2L217.6 270.8L217.3 269.9L217.2 268.4L217.4 266.6L217.9 264.8L218.8 263.3L219.8 262.4L221.0 262.0L222.2 262.4L223.2 263.3L224.1 264.8L224.6 266.6L224.8 268.4L224.7 269.9L224.4 270.8L224.0 271.2L223.6 270.8L223.3 269.9L223.2 268.4L223.4 266.6L223.9 264.8L224.8 263.3L225.8 262.4L227.0 262.0L228.2 262.4L229.2 263.3L230.1 264.8L230.6 266.6L230.8 268.4L230.7 269.9L230.4 270.8L230.0 271.2" fill="none" stroke="#a4a4a4" stroke-width="3.7" stroke-linejoin="round"/><path d="M212.0 271.2L211.6 270.8L211.3 269.9L211.2 268.4L211.4 266.6L211.9 264.8L212.8 263.3L213.8 262.4L215.0 262.0L216.2 262.4L217.2 263.3L218.1 264.8L218.6 266.6L218.8 268.4L218.7 269.9L218.4 270.8L218.0 271.2L217.6 270.8L217.3 269.9L217.2 268.4L217.4 266.6L217.9 264.8L218.8 263.3L219.8 262.4L221.0 262.0L222.2 262.4L223.2 263.3L224.1 264.8L224.6 266.6L224.8 268.4L224.7 269.9L224.4 270.8L224.0 271.2L223.6 270.8L223.3 269.9L223.2 268.4L223.4 266.6L223.9 264.8L224.8 263.3L225.8 262.4L227.0 262.0L228.2 262.4L229.2 263.3L230.1 264.8L230.6 266.6L230.8 268.4L230.7 269.9L230.4 270.8L230.0 271.2" fill="none" stroke="#d8d8d8" stroke-width="2.4" stroke-linejoin="round"/>
<path d="M360.2 278.4L359.8 278.0L359.5 277.1L359.4 275.6L359.6 273.8L360.2 272.0L361.0 270.5L362.1 269.6L363.3 269.2L364.5 269.6L365.6 270.5L366.5 272.0L367.0 273.8L367.3 275.6L367.2 277.1L366.9 278.0L366.4 278.4L366.0 278.0L365.7 277.1L365.6 275.6L365.8 273.8L366.3 272.0L367.2 270.5L368.3 269.6L369.5 269.2L370.7 269.6L371.8 270.5L372.7 272.0L373.2 273.8L373.4 275.6L373.3 277.1L373.0 278.0L372.6 278.4L372.1 278.0L371.8 277.1L371.7 275.6L372.0 273.8L372.5 272.0L373.4 270.5L374.5 269.6L375.7 269.2L376.9 269.6L378.0 270.5L378.8 272.0L379.4 273.8L379.6 275.6L379.5 277.1L379.2 278.0L378.8 278.4" fill="none" stroke="#a4a4a4" stroke-width="3.7" stroke-linejoin="round"/><path d="M360.2 278.4L359.8 278.0L359.5 277.1L359.4 275.6L359.6 273.8L360.2 272.0L361.0 270.5L362.1 269.6L363.3 269.2L364.5 269.6L365.6 270.5L366.5 272.0L367.0 273.8L367.3 275.6L367.2 277.1L366.9 278.0L366.4 278.4L366.0 278.0L365.7 277.1L365.6 275.6L365.8 273.8L366.3 272.0L367.2 270.5L368.3 269.6L369.5 269.2L370.7 269.6L371.8 270.5L372.7 272.0L373.2 273.8L373.4 275.6L373.3 277.1L373.0 278.0L372.6 278.4L372.1 278.0L371.8 277.1L371.7 275.6L372.0 273.8L372.5 272.0L373.4 270.5L374.5 269.6L375.7 269.2L376.9 269.6L378.0 270.5L378.8 272.0L379.4 273.8L379.6 275.6L379.5 277.1L379.2 278.0L378.8 278.4" fill="none" stroke="#d8d8d8" stroke-width="2.4" stroke-linejoin="round"/>
<g fill="none">
<path d="M18.0 157.8C16.8 158.7 12.5 160.8 10.8 163.2C9.2 165.6 8.4 169.2 8.1 172.2C7.8 175.2 8.6 178.3 9.0 181.3C9.4 184.3 9.3 188.2 10.8 190.3C12.3 192.4 15.3 193.0 18.0 193.9C20.7 194.8 23.8 195.7 27.1 195.7C30.4 195.7 34.7 194.8 38.0 193.9C41.3 193.0 44.6 191.5 47.0 190.3C49.4 189.1 51.5 187.3 52.4 186.7" stroke="#e600e6" stroke-width="3.9" fill="none" stroke-linecap="round" stroke-linejoin="round"/><path d="M18.0 157.8C19.8 158.4 25.6 161.1 28.9 161.4C32.2 161.7 36.5 159.9 38.0 159.6" stroke="#e600e6" stroke-width="4.16" fill="none" stroke-linecap="round" stroke-linejoin="round"/><path d="M21.7 166.8C22.0 168.6 22.3 174.6 23.5 177.6C24.7 180.6 26.5 183.4 28.9 184.9C31.3 186.4 35.3 186.7 38.0 186.7C40.7 186.7 44.0 185.2 45.2 184.9" stroke="#e600e6" stroke-width="2.25" fill="none" stroke-linecap="round" stroke-linejoin="round"/><path d="M36.1 161.4C37.6 161.1 42.2 159.6 45.2 159.6C48.2 159.6 51.8 160.2 54.2 161.4C56.6 162.6 59.0 164.7 59.6 166.8C60.2 168.9 58.1 172.8 57.8 174.0" stroke="#e600e6" stroke-width="2.0" fill="none" stroke-linecap="round" stroke-linejoin="round"/><path d="M8.0 186.0C9.0 187.7 12.0 193.8 14.0 196.0C16.0 198.2 19.0 198.5 20.0 199.0" stroke="#e600e6" stroke-width="3.12" fill="none" stroke-linecap="round" stroke-linejoin="round"/><path d="M72.3 157.8C72.9 159.3 75.6 163.8 75.9 166.8C76.2 169.8 75.0 172.8 74.1 175.8C73.2 178.8 71.4 181.9 70.5 184.9C69.6 187.9 69.0 192.4 68.7 193.9" stroke="#8a1fd6" stroke-width="3.38" fill="none" stroke-linecap="round" stroke-linejoin="round"/><path d="M45.2 193.9C45.5 195.7 45.8 201.8 47.0 204.8C48.2 207.8 51.5 210.8 52.4 212.0" stroke="#8a1fd6" stroke-width="3.9" fill="none" stroke-linecap="round" stroke-linejoin="round"/><path d="M54.2 195.7C54.8 197.8 57.2 206.3 57.8 208.4" stroke="#8a1fd6" stroke-width="3.38" fill="none" stroke-linecap="round" stroke-linejoin="round"/><path d="M66.9 197.5C67.2 199.0 69.3 204.2 68.7 206.6C68.1 209.0 64.2 211.1 63.3 212.0" stroke="#8a1fd6" stroke-width="3.38" fill="none" stroke-linecap="round" stroke-linejoin="round"/><path d="M45.0 190.0C46.7 190.3 51.5 191.2 55.0 192.0C58.5 192.8 63.2 194.0 66.0 195.0C68.8 196.0 71.0 197.5 72.0 198.0" stroke="#8a1fd6" stroke-width="2.0" fill="none" stroke-linecap="round" stroke-linejoin="round"/><path d="M40.0 172.0C41.3 171.3 45.3 168.3 48.0 168.0C50.7 167.7 53.7 168.7 56.0 170.0C58.3 171.3 61.3 173.3 62.0 176.0C62.7 178.7 60.3 184.3 60.0 186.0" stroke="#8a1fd6" stroke-width="1.75" fill="none" stroke-linecap="round" stroke-linejoin="round"/><path d="M27.1 133.4C29.8 132.9 38.3 130.5 43.4 130.7C48.5 130.8 54.5 131.9 57.8 134.3C61.1 136.7 62.1 141.2 63.3 145.1C64.5 149.0 65.1 153.3 65.1 157.8C65.1 162.3 63.6 169.8 63.3 172.2" stroke="#2ad62a" stroke-width="3.9" fill="none" stroke-linecap="round" stroke-linejoin="round"/><path d="M28.9 145.1C29.2 147.5 29.5 155.1 30.7 159.6C31.9 164.1 34.0 168.9 36.1 172.2C38.2 175.5 42.2 178.2 43.4 179.4" stroke="#2ad62a" stroke-width="3.38" fill="none" stroke-linecap="round" stroke-linejoin="round"/><path d="M40.0 150.0C41.3 149.3 46.0 145.7 48.0 146.0C50.0 146.3 51.7 149.7 52.0 152.0C52.3 154.3 50.3 158.7 50.0 160.0" stroke="#2ad62a" stroke-width="2.0" fill="none" stroke-linecap="round" stroke-linejoin="round"/><path d="M59.6 125.2C59.9 126.1 59.9 128.6 61.4 130.7C62.9 132.8 66.3 134.9 68.7 137.9C71.1 140.9 73.8 145.1 75.9 148.7C78.0 152.3 79.8 156.0 81.3 159.6C82.8 163.2 84.6 167.7 84.9 170.4C85.2 173.1 84.6 174.3 83.1 175.8C81.6 177.3 78.0 179.1 75.9 179.4C73.8 179.7 71.4 177.9 70.5 177.6" stroke="#dd0000" stroke-width="1.88" fill="none" stroke-linecap="round" stroke-linejoin="round"/><path d="M44.0 140.0C45.0 141.0 48.2 144.0 50.0 146.0C51.8 148.0 53.7 149.7 55.0 152.0C56.3 154.3 57.5 158.7 58.0 160.0" stroke="#dd0000" stroke-width="3.12" fill="none" stroke-linecap="round" stroke-linejoin="round"/><path d="M44.0 158.0C45.0 158.7 48.3 160.3 50.0 162.0C51.7 163.7 53.7 166.0 54.0 168.0C54.3 170.0 52.3 173.0 52.0 174.0" stroke="#dd0000" stroke-width="4.16" fill="none" stroke-linecap="round" stroke-linejoin="round"/><path d="M72.0 178.0C73.3 178.0 78.7 178.0 80.0 178.0" stroke="#dd0000" stroke-width="4.16" fill="none" stroke-linecap="round" stroke-linejoin="round"/><path d="M37.0 136.0C37.8 136.3 41.2 137.7 42.0 138.0" stroke="#dd0000" stroke-width="1.75" fill="none" stroke-linecap="round" stroke-linejoin="round"/><path d="M17.0 168.0C17.8 168.7 20.2 171.7 22.0 172.0C23.8 172.3 27.0 170.3 28.0 170.0" stroke="#dd0000" stroke-width="1.75" fill="none" stroke-linecap="round" stroke-linejoin="round"/><path d="M49.7 123.4C49.9 124.9 49.6 129.2 50.6 132.5C51.6 135.8 54.5 139.7 56.0 143.3C57.5 146.9 58.7 150.8 59.6 154.1C60.5 157.4 61.1 161.7 61.4 163.2" stroke="#0a0ad2" stroke-width="3.9" fill="none" stroke-linecap="round" stroke-linejoin="round"/><path d="M19.0 140.6C20.9 140.4 26.9 138.9 30.7 139.7C34.5 140.4 37.7 143.0 41.6 145.1C45.5 147.2 52.1 151.1 54.2 152.3" stroke="#0a0ad2" stroke-width="4.42" fill="none" stroke-linecap="round" stroke-linejoin="round"/><path d="M30.7 140.6C31.3 139.6 32.5 135.5 34.3 134.3C36.1 133.1 39.5 132.8 41.6 133.4C43.7 134.0 46.1 137.2 47.0 137.9" stroke="#0a0ad2" stroke-width="2.25" fill="none" stroke-linecap="round" stroke-linejoin="round"/><path d="M23.5 163.2C23.2 164.4 21.4 168.3 21.7 170.4C22.0 172.5 23.2 174.3 25.3 175.8C27.4 177.3 31.0 178.6 34.3 179.4C37.6 180.2 41.9 180.1 45.2 180.4C48.5 180.7 50.9 181.3 54.2 181.3C57.5 181.3 63.0 181.3 65.1 180.4C67.2 179.5 67.8 177.5 66.9 175.8C66.0 174.1 61.7 172.2 59.6 170.4C57.5 168.6 55.1 165.9 54.2 165.0" stroke="#0a0ad2" stroke-width="2.75" fill="none" stroke-linecap="round" stroke-linejoin="round"/><path d="M34.3 179.4C36.1 179.6 43.4 180.2 45.2 180.4" stroke="#0a0ad2" stroke-width="4.16" fill="none" stroke-linecap="round" stroke-linejoin="round"/><path d="M36.0 150.0C37.0 151.0 39.7 154.7 42.0 156.0C44.3 157.3 48.7 157.7 50.0 158.0" stroke="#0a0ad2" stroke-width="2.5" fill="none" stroke-linecap="round" stroke-linejoin="round"/><path d="M36.0 135.0C36.7 137.5 38.3 145.0 40.0 150.0C41.7 155.0 43.5 160.8 46.0 165.0C48.5 169.2 53.5 173.3 55.0 175.0" stroke="#2ad62a" stroke-width="3.38" fill="none" stroke-linecap="round" stroke-linejoin="round"/><path d="M50.0 132.0C51.0 134.2 54.7 140.3 56.0 145.0C57.3 149.7 57.7 157.5 58.0 160.0" stroke="#2ad62a" stroke-width="3.38" fill="none" stroke-linecap="round" stroke-linejoin="round"/><path d="M32.0 150.0C32.7 151.7 34.3 157.0 36.0 160.0C37.7 163.0 41.0 166.7 42.0 168.0" stroke="#2ad62a" stroke-width="2.75" fill="none" stroke-linecap="round" stroke-linejoin="round"/><path d="M40.0 145.0C41.3 146.7 46.0 151.7 48.0 155.0C50.0 158.3 51.3 163.3 52.0 165.0" stroke="#dd0000" stroke-width="3.12" fill="none" stroke-linecap="round" stroke-linejoin="round"/><path d="M45.0 135.0C46.7 135.8 52.5 137.5 55.0 140.0C57.5 142.5 59.2 148.3 60.0 150.0" stroke="#dd0000" stroke-width="2.5" fill="none" stroke-linecap="round" stroke-linejoin="round"/><path d="M38.0 160.0C39.2 161.7 42.0 168.0 45.0 170.0C48.0 172.0 54.2 171.7 56.0 172.0" stroke="#dd0000" stroke-width="3.12" fill="none" stroke-linecap="round" stroke-linejoin="round"/><path d="M25.0 150.0C26.7 151.3 31.7 156.0 35.0 158.0C38.3 160.0 43.3 161.3 45.0 162.0" stroke="#0a0ad2" stroke-width="3.38" fill="none" stroke-linecap="round" stroke-linejoin="round"/><path d="M30.0 165.0C31.7 166.2 35.8 170.3 40.0 172.0C44.2 173.7 52.5 174.5 55.0 175.0" stroke="#0a0ad2" stroke-width="3.38" fill="none" stroke-linecap="round" stroke-linejoin="round"/><path d="M22.0 146.0C23.3 146.7 27.3 149.7 30.0 150.0C32.7 150.3 36.7 148.3 38.0 148.0" stroke="#0a0ad2" stroke-width="3.12" fill="none" stroke-linecap="round" stroke-linejoin="round"/><path d="M60.0 160.0C61.0 161.7 64.3 165.8 66.0 170.0C67.7 174.2 69.3 182.5 70.0 185.0" stroke="#8a1fd6" stroke-width="3.38" fill="none" stroke-linecap="round" stroke-linejoin="round"/><path d="M50.0 200.0C51.0 200.8 54.0 205.0 56.0 205.0C58.0 205.0 61.0 200.8 62.0 200.0" stroke="#8a1fd6" stroke-width="3.12" fill="none" stroke-linecap="round" stroke-linejoin="round"/><path d="M62.0 186.0C63.3 187.0 67.7 191.3 70.0 192.0C72.3 192.7 75.0 190.3 76.0 190.0" stroke="#8a1fd6" stroke-width="3.12" fill="none" stroke-linecap="round" stroke-linejoin="round"/><path d="M48.0 178.0C49.3 179.3 54.0 183.0 56.0 186.0C58.0 189.0 59.3 194.3 60.0 196.0" stroke="#8a1fd6" stroke-width="2.75" fill="none" stroke-linecap="round" stroke-linejoin="round"/><path d="M12.0 175.0C13.3 176.7 17.0 182.5 20.0 185.0C23.0 187.5 28.3 189.2 30.0 190.0" stroke="#e600e6" stroke-width="3.12" fill="none" stroke-linecap="round" stroke-linejoin="round"/><path d="M40.0 162.0C41.7 162.7 47.7 163.8 50.0 166.0C52.3 168.2 53.3 173.5 54.0 175.0" stroke="#e600e6" stroke-width="2.75" fill="none" stroke-linecap="round" stroke-linejoin="round"/><path d="M10.0 165.0C11.3 164.5 15.3 162.2 18.0 162.0C20.7 161.8 24.7 163.7 26.0 164.0" stroke="#e600e6" stroke-width="3.38" fill="none" stroke-linecap="round" stroke-linejoin="round"/><path d="M30.0 132.0C31.7 132.7 36.7 134.7 40.0 136.0C43.3 137.3 47.0 138.3 50.0 140.0C53.0 141.7 56.7 145.0 58.0 146.0" stroke="#2ad62a" stroke-width="3.9" fill="none" stroke-linecap="round" stroke-linejoin="round"/><path d="M26.0 144.0C27.7 143.7 32.7 141.3 36.0 142.0C39.3 142.7 42.7 145.7 46.0 148.0C49.3 150.3 54.3 154.7 56.0 156.0" stroke="#0a0ad2" stroke-width="3.9" fill="none" stroke-linecap="round" stroke-linejoin="round"/><path d="M52.0 128.0C52.7 129.3 54.3 132.7 56.0 136.0C57.7 139.3 60.7 144.0 62.0 148.0C63.3 152.0 63.7 158.0 64.0 160.0" stroke="#0a0ad2" stroke-width="3.38" fill="none" stroke-linecap="round" stroke-linejoin="round"/><path d="M48.0 150.0C49.0 151.3 52.3 155.0 54.0 158.0C55.7 161.0 57.0 165.0 58.0 168.0C59.0 171.0 59.7 174.7 60.0 176.0" stroke="#2ad62a" stroke-width="3.38" fill="none" stroke-linecap="round" stroke-linejoin="round"/><path d="M44.0 164.0C45.3 165.0 49.3 167.7 52.0 170.0C54.7 172.3 57.7 176.0 60.0 178.0C62.3 180.0 65.0 181.3 66.0 182.0" stroke="#dd0000" stroke-width="3.38" fill="none" stroke-linecap="round" stroke-linejoin="round"/>
<path d="M186.5 146.3C186.2 147.2 185.0 150.3 184.5 152.0C184.0 153.7 183.8 154.4 183.5 156.7C183.2 159.0 182.8 163.0 182.5 166.0C182.2 169.0 181.9 171.6 181.4 174.9C180.9 178.2 179.9 182.5 179.3 186.0C178.7 189.5 178.6 192.8 178.0 196.0C177.4 199.2 176.3 203.5 176.0 205.0" stroke="#8a1fd6" stroke-width="1.88" fill="none" stroke-linecap="round" stroke-linejoin="round"/><path d="M175.8 157.4C177.1 157.2 181.1 156.0 183.5 156.0C185.9 156.0 189.0 156.3 190.4 157.4C191.8 158.5 192.0 160.6 191.8 162.3C191.6 164.1 190.2 166.9 189.0 167.9C187.8 168.9 185.6 168.5 184.9 168.6" stroke="#8a1fd6" stroke-width="4.16" fill="none" stroke-linecap="round" stroke-linejoin="round"/><path d="M184.9 168.6C186.1 168.9 190.2 169.4 191.8 170.7C193.4 172.0 194.3 174.4 194.6 176.3C194.9 178.2 194.2 180.2 193.8 182.0C193.5 183.8 192.7 186.5 192.5 187.4" stroke="#8a1fd6" stroke-width="3.64" fill="none" stroke-linecap="round" stroke-linejoin="round"/><path d="M192.5 187.4C191.8 188.1 189.9 191.5 188.4 191.6C186.9 191.7 185.2 189.0 183.5 188.1C181.8 187.2 178.9 186.3 178.0 186.0" stroke="#8a1fd6" stroke-width="1.75" fill="none" stroke-linecap="round" stroke-linejoin="round"/><path d="M168.1 158.8C166.5 159.9 159.8 163.3 158.4 165.1C157.0 166.8 158.7 167.7 159.8 169.3C160.9 171.0 163.2 173.4 165.0 175.0C166.8 176.6 168.9 177.5 170.9 179.1C172.9 180.7 175.2 182.8 177.2 184.6C179.2 186.4 182.0 189.1 183.0 190.0" stroke="#8a1fd6" stroke-width="1.88" fill="none" stroke-linecap="round" stroke-linejoin="round"/><path d="M168.1 158.8C168.2 160.0 168.5 163.3 169.0 166.0C169.5 168.7 170.4 172.2 170.9 174.9C171.4 177.6 171.8 179.5 172.0 182.0C172.2 184.5 172.0 188.7 172.0 190.0" stroke="#8a1fd6" stroke-width="1.75" fill="none" stroke-linecap="round" stroke-linejoin="round"/><path d="M170.0 186.0C169.7 186.3 168.9 186.8 168.1 188.0C167.3 189.2 165.9 191.2 165.0 193.0C164.1 194.8 163.8 196.0 162.6 198.6C161.4 201.2 158.5 206.7 157.7 208.3" stroke="#8a1fd6" stroke-width="4.42" fill="none" stroke-linecap="round" stroke-linejoin="round"/><path d="M177.9 187.4C177.5 188.3 176.2 191.1 175.5 193.0C174.8 194.9 174.5 196.6 173.7 198.6C172.9 200.6 171.4 203.2 170.5 205.0C169.6 206.8 168.5 208.9 168.1 209.7" stroke="#8a1fd6" stroke-width="4.42" fill="none" stroke-linecap="round" stroke-linejoin="round"/><path d="M160.0 207.0C161.0 205.8 164.0 202.5 166.0 200.0C168.0 197.5 170.0 194.3 172.0 192.0C174.0 189.7 177.0 187.0 178.0 186.0" stroke="#8a1fd6" stroke-width="1.62" fill="none" stroke-linecap="round" stroke-linejoin="round"/><path d="M174.0 185.0C175.0 185.7 178.0 188.2 180.0 189.0C182.0 189.8 185.0 189.8 186.0 190.0" stroke="#8a1fd6" stroke-width="2.75" fill="none" stroke-linecap="round" stroke-linejoin="round"/><path d="M172.0 195.0C172.7 195.8 175.0 197.8 176.0 200.0C177.0 202.2 177.7 206.7 178.0 208.0" stroke="#8a1fd6" stroke-width="1.62" fill="none" stroke-linecap="round" stroke-linejoin="round"/>
<path d="M296.3 166.2C294.8 166.5 289.7 166.7 287.3 167.9C284.9 169.1 282.6 171.4 281.7 173.5C280.8 175.6 280.9 178.1 281.7 180.2C282.4 182.2 284.7 184.3 286.2 185.8C287.7 187.3 290.7 188.0 290.7 189.1C290.7 190.2 287.5 191.2 286.2 192.5C284.9 193.8 283.0 195.7 282.8 197.0C282.6 198.3 283.4 199.5 285.1 200.3C286.8 201.1 289.9 201.8 292.9 202.0C295.9 202.2 300.2 202.2 303.0 201.5C305.8 200.8 308.6 198.7 309.7 198.1" stroke="#e600e6" stroke-width="2.75" fill="none" stroke-linecap="round" stroke-linejoin="round"/><path d="M291.8 177.4C292.1 176.5 292.7 173.8 293.5 172.0C294.3 170.2 296.2 167.7 296.8 166.8" stroke="#e600e6" stroke-width="4.16" fill="none" stroke-linecap="round" stroke-linejoin="round"/><path d="M309.7 198.1C311.4 198.3 316.7 199.4 319.7 199.2C322.7 199.0 325.6 198.2 327.6 197.0C329.6 195.8 330.4 193.7 331.5 192.0C332.6 190.3 333.8 187.8 334.3 186.9" stroke="#e600e6" stroke-width="3.64" fill="none" stroke-linecap="round" stroke-linejoin="round"/><path d="M308.6 183.6C308.8 182.1 307.9 177.0 309.7 174.6C311.5 172.2 316.3 170.3 319.7 169.0C323.1 167.7 327.2 166.4 329.8 166.8C332.4 167.2 334.1 169.6 335.4 171.3C336.7 173.0 338.0 175.1 337.6 176.8C337.2 178.5 335.6 179.8 333.2 181.3C330.8 182.8 326.3 183.9 323.1 185.8C319.9 187.7 316.5 190.6 314.1 192.5C311.7 194.4 309.5 196.2 308.6 197.0" stroke="#e600e6" stroke-width="2.0" fill="none" stroke-linecap="round" stroke-linejoin="round"/><path d="M322.0 186.0C320.7 187.1 315.4 191.4 314.1 192.5" stroke="#e600e6" stroke-width="4.55" fill="none" stroke-linecap="round" stroke-linejoin="round"/><path d="M305.2 170.1C306.3 169.4 309.1 166.8 311.9 165.7C314.7 164.6 318.8 164.2 322.0 163.4C325.2 162.6 329.4 161.1 330.9 160.6" stroke="#e600e6" stroke-width="3.9" fill="none" stroke-linecap="round" stroke-linejoin="round"/><path d="M305.2 170.1C305.6 171.4 308.1 175.4 307.4 178.0C306.6 180.6 302.0 184.0 300.7 185.8C299.4 187.7 299.0 187.8 299.6 189.1C300.2 190.4 302.5 192.3 304.1 193.6C305.7 194.9 308.2 196.4 309.0 197.0" stroke="#e600e6" stroke-width="2.5" fill="none" stroke-linecap="round" stroke-linejoin="round"/><path d="M290.7 189.1C292.4 189.2 299.0 189.6 300.7 189.7" stroke="#e600e6" stroke-width="2.0" fill="none" stroke-linecap="round" stroke-linejoin="round"/><path d="M283.0 199.0C284.2 199.3 288.8 200.7 290.0 201.0" stroke="#e600e6" stroke-width="4.68" fill="none" stroke-linecap="round" stroke-linejoin="round"/><path d="M296.5 164.0L297.6 170.9L291.1 168.3Z" fill="#e600e6"/><path d="M325.0 184.5L322.2 190.9L318.1 185.2Z" fill="#e600e6"/><path d="M332.0 160.0L329.1 163.7L327.4 159.1Z" fill="#e600e6"/>
<path d="M45.6 268.2C45.5 269.1 43.9 271.3 44.8 273.6C45.7 275.9 48.7 279.4 51.0 282.1C53.3 284.8 56.4 287.2 58.7 289.8C61.0 292.4 63.1 294.7 64.9 297.5C66.7 300.3 68.5 304.0 69.5 306.8C70.5 309.6 71.1 312.3 71.0 314.5C70.9 316.7 70.5 318.9 68.7 319.9C66.9 320.9 63.2 320.9 60.2 320.7C57.2 320.4 52.5 318.8 51.0 318.4" stroke="#dd0000" stroke-width="1.88" fill="none" stroke-linecap="round" stroke-linejoin="round"/><path d="M23.9 285.9C24.0 285.1 23.9 282.3 24.7 281.3C25.5 280.3 27.1 279.7 28.6 279.8C30.2 279.9 32.3 280.8 34.0 282.1C35.7 283.4 36.6 285.7 38.6 287.5C40.6 289.3 45.0 292.0 46.3 292.9" stroke="#dd0000" stroke-width="1.88" fill="none" stroke-linecap="round" stroke-linejoin="round"/><path d="M37.0 289.8C38.8 290.6 45.3 292.7 47.9 294.4C50.5 296.1 50.5 298.6 52.5 299.8C54.5 301.0 58.1 300.8 60.2 301.4C62.3 302.0 64.1 303.3 64.9 303.7" stroke="#dd0000" stroke-width="3.64" fill="none" stroke-linecap="round" stroke-linejoin="round"/><path d="M4.6 300.6C5.4 301.6 7.5 305.0 9.3 306.8C11.1 308.6 13.1 311.1 15.4 311.4C17.7 311.6 20.6 310.1 23.2 308.3C25.8 306.5 29.6 301.9 30.9 300.6" stroke="#dd0000" stroke-width="1.88" fill="none" stroke-linecap="round" stroke-linejoin="round"/><path d="M32.4 294.4C32.7 295.0 33.2 296.7 34.0 298.0C34.8 299.3 36.0 300.3 37.0 302.0C38.0 303.7 39.7 307.2 40.2 308.3" stroke="#dd0000" stroke-width="5.85" fill="none" stroke-linecap="round" stroke-linejoin="round"/><path d="M34.0 303.0C35.0 303.2 38.3 304.2 40.0 304.0C41.7 303.8 43.3 302.3 44.0 302.0" stroke="#dd0000" stroke-width="4.55" fill="none" stroke-linecap="round" stroke-linejoin="round"/><path d="M34.0 316.0C35.3 316.5 38.9 319.4 41.7 319.1C44.5 318.9 47.6 315.5 51.0 314.5C54.4 313.5 59.2 313.5 61.8 313.0C64.4 312.5 65.6 311.7 66.4 311.4" stroke="#dd0000" stroke-width="3.38" fill="none" stroke-linecap="round" stroke-linejoin="round"/><path d="M32.4 308.3C32.5 309.9 33.1 316.1 33.2 317.6" stroke="#dd0000" stroke-width="3.12" fill="none" stroke-linecap="round" stroke-linejoin="round"/><path d="M43.0 304.0L37.1 306.5L39.3 298.8Z" fill="#dd0000"/><path d="M66.5 312.0L62.2 316.3L61.0 309.4Z" fill="#dd0000"/>
<path d="M169.7 268.8C169.4 269.9 167.1 273.3 167.7 275.6C168.3 277.9 171.5 280.1 173.1 282.4C174.7 284.7 176.2 286.7 177.2 289.2C178.2 291.7 178.8 294.9 179.2 297.4C179.6 299.9 179.8 303.1 179.9 304.2" stroke="#0a0ad2" stroke-width="3.9" fill="none" stroke-linecap="round" stroke-linejoin="round"/><path d="M139.8 289.9C141.3 289.6 145.6 287.7 148.6 287.9C151.6 288.1 154.7 289.9 158.1 291.3C161.5 292.7 166.1 294.5 169.0 296.0C171.9 297.5 173.8 298.7 175.8 300.1C177.9 301.5 180.4 303.5 181.3 304.2" stroke="#0a0ad2" stroke-width="4.68" fill="none" stroke-linecap="round" stroke-linejoin="round"/><path d="M151.3 289.2C151.5 287.8 151.7 282.7 152.7 281.0C153.7 279.3 155.8 278.5 157.4 279.0C159.0 279.5 160.5 282.3 162.2 283.8C163.9 285.3 166.8 287.2 167.7 287.9" stroke="#0a0ad2" stroke-width="2.25" fill="none" stroke-linecap="round" stroke-linejoin="round"/><path d="M151.3 294.7C153.1 295.4 158.6 297.6 162.2 298.7C165.8 299.8 170.4 300.4 173.1 301.5C175.8 302.6 177.6 304.8 178.5 305.5" stroke="#0a0ad2" stroke-width="3.38" fill="none" stroke-linecap="round" stroke-linejoin="round"/><path d="M179.9 305.5C179.7 306.9 179.4 311.2 178.5 313.7C177.6 316.2 176.8 319.4 174.5 320.5C172.2 321.6 167.6 320.3 164.9 320.5C162.2 320.7 160.1 322.1 158.1 321.9C156.1 321.7 154.0 320.5 152.7 319.1C151.3 317.7 150.9 315.4 150.0 313.7C149.1 312.0 148.1 309.1 147.2 308.9C146.3 308.7 144.8 310.1 144.5 312.3C144.2 314.5 144.3 319.2 145.2 321.9C146.1 324.6 147.8 327.3 150.0 328.7C152.2 330.1 155.6 330.5 158.1 330.0C160.6 329.5 162.4 326.8 164.9 325.9C167.4 325.0 170.6 324.4 173.1 324.6C175.6 324.8 177.2 327.1 179.9 327.3C182.6 327.5 187.6 326.9 189.4 326.0C191.2 325.1 191.5 323.5 190.8 321.9C190.1 320.3 186.7 318.4 185.3 316.4C183.9 314.3 183.1 310.7 182.6 309.6" stroke="#0a0ad2" stroke-width="3.38" fill="none" stroke-linecap="round" stroke-linejoin="round"/><path d="M150.0 328.7C151.3 328.9 155.6 330.5 158.1 330.0C160.6 329.5 163.8 326.6 164.9 325.9" stroke="#0a0ad2" stroke-width="4.16" fill="none" stroke-linecap="round" stroke-linejoin="round"/><path d="M164.0 292.0C165.0 291.3 168.3 287.7 170.0 288.0C171.7 288.3 173.3 293.0 174.0 294.0" stroke="#0a0ad2" stroke-width="3.38" fill="none" stroke-linecap="round" stroke-linejoin="round"/><path d="M138.5 290.0L143.7 285.0L145.1 292.9Z" fill="#0a0ad2"/><path d="M182.5 306.5L176.4 305.9L180.9 300.6Z" fill="#0a0ad2"/>
<path d="M293.6 284.2C295.2 284.3 300.6 285.3 303.1 284.9C305.6 284.4 306.5 281.8 308.5 281.5C310.5 281.2 312.8 282.4 315.3 282.9C317.8 283.3 321.6 283.3 323.5 284.2C325.4 285.1 325.8 286.7 326.9 288.3C328.0 289.9 329.1 291.2 330.3 293.7C331.6 296.2 333.5 301.0 334.4 303.3C335.3 305.6 335.5 306.6 335.7 307.3" stroke="#2ad62a" stroke-width="3.9" fill="none" stroke-linecap="round" stroke-linejoin="round"/><path d="M297.0 293.7C297.1 294.8 296.9 298.0 297.7 300.5C298.5 303.0 300.6 306.0 301.7 308.7C302.8 311.4 303.6 313.9 304.5 316.9C305.4 319.8 306.4 323.9 307.2 326.4C308.0 328.9 308.9 330.9 309.2 331.8" stroke="#2ad62a" stroke-width="3.38" fill="none" stroke-linecap="round" stroke-linejoin="round"/><path d="M296.3 297.8C297.0 298.9 298.6 302.1 300.4 304.6C302.2 307.1 305.2 310.1 307.2 312.8C309.2 315.5 310.8 319.0 312.6 321.0C314.4 323.0 316.1 324.1 318.1 325.0C320.2 325.9 322.4 326.6 324.9 326.4C327.4 326.2 331.2 325.1 333.0 323.7C334.8 322.3 335.2 319.1 335.7 318.2" stroke="#2ad62a" stroke-width="2.5" fill="none" stroke-linecap="round" stroke-linejoin="round"/><path d="M309.9 299.2C310.1 298.1 310.2 294.0 311.3 292.4C312.4 290.8 314.9 289.9 316.7 289.7C318.5 289.5 321.0 289.9 322.1 291.0C323.2 292.1 323.5 294.4 323.5 296.5C323.5 298.6 323.0 301.9 322.1 303.3C321.2 304.7 319.2 305.1 318.1 304.6C317.0 304.1 315.8 301.2 315.3 300.5" stroke="#2ad62a" stroke-width="2.25" fill="none" stroke-linecap="round" stroke-linejoin="round"/><path d="M309.2 331.8C310.0 332.2 312.1 334.3 314.0 334.5C315.9 334.7 318.3 334.1 320.8 333.2C323.3 332.3 326.9 330.7 328.9 329.1C330.9 327.5 332.3 326.0 333.0 323.7C333.7 321.4 333.4 318.0 333.0 315.5C332.6 313.0 331.4 310.7 330.3 308.7C329.2 306.7 326.9 304.2 326.2 303.3" stroke="#2ad62a" stroke-width="2.25" fill="none" stroke-linecap="round" stroke-linejoin="round"/><path d="M318.0 293.0C318.3 294.2 320.0 298.2 320.0 300.0C320.0 301.8 318.3 303.3 318.0 304.0" stroke="#2ad62a" stroke-width="4.42" fill="none" stroke-linecap="round" stroke-linejoin="round"/><path d="M336.5 310.0L330.8 305.6L338.4 303.0Z" fill="#2ad62a"/><path d="M297.0 290.0L301.1 294.5L294.1 295.4Z" fill="#2ad62a"/>
</g>
<path d="M23.9 285.9L72.6 295.2L63.3 340.0L15.4 330.7Z" fill="none" stroke="#111" stroke-width="1.1"/>
<path d="M297.7 279.5L343.9 295.1L328.9 341.3L282.0 325.7Z" fill="none" stroke="#111" stroke-width="1.1"/>
<clipPath id="clL"><rect x="8.5" y="383" width="174.5" height="152.5"/></clipPath>
<g clip-path="url(#clL)">
<path d="M12.0 392.0C13.3 391.0 16.7 387.0 20.0 386.0C23.3 385.0 28.3 385.0 32.0 386.0C35.7 387.0 39.3 389.7 42.0 392.0C44.7 394.3 47.7 398.0 48.0 400.0C48.3 402.0 44.7 403.3 44.0 404.0" fill="none" stroke="#c6c6c6" stroke-width="7.1" stroke-linecap="round" stroke-linejoin="round"/><path d="M12.0 392.0C13.3 391.0 16.7 387.0 20.0 386.0C23.3 385.0 28.3 385.0 32.0 386.0C35.7 387.0 39.3 389.7 42.0 392.0C44.7 394.3 47.7 398.0 48.0 400.0C48.3 402.0 44.7 403.3 44.0 404.0" fill="none" stroke="#ebebeb" stroke-width="6" stroke-linecap="round" stroke-linejoin="round"/>
<path d="M14.0 392.0C13.7 393.3 11.7 397.0 12.0 400.0C12.3 403.0 14.3 407.0 16.0 410.0C17.7 413.0 21.0 416.7 22.0 418.0" fill="none" stroke="#c6c6c6" stroke-width="6.1" stroke-linecap="round" stroke-linejoin="round"/><path d="M14.0 392.0C13.7 393.3 11.7 397.0 12.0 400.0C12.3 403.0 14.3 407.0 16.0 410.0C17.7 413.0 21.0 416.7 22.0 418.0" fill="none" stroke="#e2e2e2" stroke-width="5" stroke-linecap="round" stroke-linejoin="round"/>
<path d="M22.0 418.0C23.3 419.0 27.7 422.0 30.0 424.0C32.3 426.0 35.0 429.0 36.0 430.0" fill="none" stroke="#cdcdcd" stroke-width="0.8" stroke-linecap="round" stroke-linejoin="round"/>
<path d="M26.0 398.0C26.7 400.0 29.7 406.3 30.0 410.0C30.3 413.7 29.7 416.7 28.0 420.0C26.3 423.3 22.3 427.3 20.0 430.0C17.7 432.7 15.0 435.0 14.0 436.0" fill="none" stroke="#cdcdcd" stroke-width="0.8" stroke-linecap="round" stroke-linejoin="round"/>
<path d="M9.0 440.0C10.5 441.0 14.5 445.0 18.0 446.0C21.5 447.0 26.3 447.0 30.0 446.0C33.7 445.0 38.3 441.0 40.0 440.0" fill="none" stroke="#cdcdcd" stroke-width="0.8" stroke-linecap="round" stroke-linejoin="round"/>
<path d="M9.0 470.0C10.8 471.0 16.5 472.7 20.0 476.0C23.5 479.3 27.7 486.0 30.0 490.0C32.3 494.0 33.3 498.3 34.0 500.0" fill="none" stroke="#cdcdcd" stroke-width="0.8" stroke-linecap="round" stroke-linejoin="round"/>
<path d="M30.0 455.0C32.3 457.5 39.7 465.0 44.0 470.0C48.3 475.0 52.7 480.0 56.0 485.0C59.3 490.0 62.7 497.5 64.0 500.0" fill="none" stroke="#cdcdcd" stroke-width="0.8" stroke-linecap="round" stroke-linejoin="round"/>
<path d="M40.0 430.0C41.7 431.7 47.7 436.3 50.0 440.0C52.3 443.7 53.3 450.0 54.0 452.0" fill="none" stroke="#cdcdcd" stroke-width="0.8" stroke-linecap="round" stroke-linejoin="round"/>
<path d="M16.0 420.0C17.3 423.3 22.0 434.7 24.0 440.0C26.0 445.3 27.3 450.0 28.0 452.0" fill="none" stroke="#cdcdcd" stroke-width="0.8" stroke-linecap="round" stroke-linejoin="round"/>
<path d="M2.3 531.0L1.1 530.4L0.1 528.8L-0.6 526.1L-0.9 522.5L-0.6 518.4L0.4 514.0L2.0 509.6L4.3 505.5L7.1 501.9L10.4 499.1L14.1 497.4L18.0 496.8L21.9 497.3L25.6 498.9L29.0 501.6L32.0 505.0L34.4 509.1L36.1 513.5L37.2 517.9L37.7 522.0L37.5 525.5L36.9 528.2L35.9 529.9L34.8 530.5L33.6 529.9L32.6 528.3L31.9 525.6L31.6 522.0L31.9 517.9L32.9 513.5L34.5 509.1L36.8 505.0L39.6 501.4L42.9 498.6L46.6 496.9L50.5 496.3L54.4 496.8L58.1 498.4L61.5 501.1L64.5 504.5L66.9 508.6L68.6 513.0L69.7 517.4L70.2 521.5L70.0 525.0L69.4 527.7L68.4 529.4L67.3 530.0L66.1 529.4L65.1 527.8L64.4 525.1L64.1 521.5L64.4 517.4L65.4 513.0L67.0 508.6L69.3 504.5L72.1 500.9L75.4 498.1L79.1 496.4L83.0 495.8L86.9 496.3L90.6 497.9L94.0 500.6L97.0 504.0L99.4 508.1L101.1 512.5L102.2 516.9L102.7 521.0L102.5 524.5L101.9 527.2L100.9 528.9L99.8 529.5L98.6 528.9L97.6 527.3L96.9 524.6L96.6 521.0L96.9 516.9L97.9 512.5L99.5 508.1L101.8 504.0L104.6 500.4L107.9 497.6L111.6 495.9L115.5 495.3L119.4 495.8L123.1 497.4L126.5 500.1L129.5 503.5L131.9 507.6L133.6 512.0L134.7 516.4L135.2 520.5L135.0 524.0L134.4 526.7L133.4 528.4L132.3 529.0" fill="none" stroke="#c2c2c2" stroke-width="7.3" stroke-linejoin="round"/><path d="M2.3 531.0L1.1 530.4L0.1 528.8L-0.6 526.1L-0.9 522.5L-0.6 518.4L0.4 514.0L2.0 509.6L4.3 505.5L7.1 501.9L10.4 499.1L14.1 497.4L18.0 496.8L21.9 497.3L25.6 498.9L29.0 501.6L32.0 505.0L34.4 509.1L36.1 513.5L37.2 517.9L37.7 522.0L37.5 525.5L36.9 528.2L35.9 529.9L34.8 530.5L33.6 529.9L32.6 528.3L31.9 525.6L31.6 522.0L31.9 517.9L32.9 513.5L34.5 509.1L36.8 505.0L39.6 501.4L42.9 498.6L46.6 496.9L50.5 496.3L54.4 496.8L58.1 498.4L61.5 501.1L64.5 504.5L66.9 508.6L68.6 513.0L69.7 517.4L70.2 521.5L70.0 525.0L69.4 527.7L68.4 529.4L67.3 530.0L66.1 529.4L65.1 527.8L64.4 525.1L64.1 521.5L64.4 517.4L65.4 513.0L67.0 508.6L69.3 504.5L72.1 500.9L75.4 498.1L79.1 496.4L83.0 495.8L86.9 496.3L90.6 497.9L94.0 500.6L97.0 504.0L99.4 508.1L101.1 512.5L102.2 516.9L102.7 521.0L102.5 524.5L101.9 527.2L100.9 528.9L99.8 529.5L98.6 528.9L97.6 527.3L96.9 524.6L96.6 521.0L96.9 516.9L97.9 512.5L99.5 508.1L101.8 504.0L104.6 500.4L107.9 497.6L111.6 495.9L115.5 495.3L119.4 495.8L123.1 497.4L126.5 500.1L129.5 503.5L131.9 507.6L133.6 512.0L134.7 516.4L135.2 520.5L135.0 524.0L134.4 526.7L133.4 528.4L132.3 529.0" fill="none" stroke="#fbfbfb" stroke-width="6.0" stroke-linejoin="round"/>
<path d="M14.0 506.0L22.0 502.0L26.0 520.0L20.0 532.0Z" fill="#dadada" stroke="none" stroke-width="1" opacity="0.8"/>
<path d="M48.0 506.0L56.0 500.0L60.0 520.0L54.0 534.0Z" fill="#dcdcdc" stroke="none" stroke-width="1" opacity="0.7"/>
<path d="M82.0 506.0L90.0 500.0L92.0 520.0L86.0 534.0Z" fill="#dcdcdc" stroke="none" stroke-width="1" opacity="0.6"/>
<ellipse cx="172" cy="478" rx="10" ry="9" fill="none" stroke="#c4c4c4" stroke-width="4.1"/><ellipse cx="172" cy="478" rx="10" ry="9" fill="none" stroke="#f7f7f7" stroke-width="3"/>
<ellipse cx="176" cy="500" rx="9" ry="11" fill="none" stroke="#c4c4c4" stroke-width="4.1"/><ellipse cx="176" cy="500" rx="9" ry="11" fill="none" stroke="#f7f7f7" stroke-width="3"/>
<ellipse cx="168" cy="528" rx="11" ry="9" fill="none" stroke="#c4c4c4" stroke-width="4.1"/><ellipse cx="168" cy="528" rx="11" ry="9" fill="none" stroke="#f7f7f7" stroke-width="3"/>
<path d="M12.0 505.0C13.3 505.8 18.0 507.2 20.0 510.0C22.0 512.8 23.3 520.0 24.0 522.0" fill="none" stroke="#d0d0d0" stroke-width="3" stroke-linecap="round" stroke-linejoin="round"/>
<path d="M100.0 470.0C101.7 473.3 107.0 484.2 110.0 490.0C113.0 495.8 115.3 500.0 118.0 505.0C120.7 510.0 124.7 517.5 126.0 520.0" fill="none" stroke="#cdcdcd" stroke-width="0.8" stroke-linecap="round" stroke-linejoin="round"/>
<path d="M120.0 470.0C121.3 473.3 125.7 483.3 128.0 490.0C130.3 496.7 133.0 506.7 134.0 510.0" fill="none" stroke="#cdcdcd" stroke-width="0.8" stroke-linecap="round" stroke-linejoin="round"/>
<path d="M140.0 470.0C139.3 473.7 137.3 485.3 136.0 492.0C134.7 498.7 133.3 503.7 132.0 510.0C130.7 516.3 128.7 526.7 128.0 530.0" fill="none" stroke="#cdcdcd" stroke-width="0.8" stroke-linecap="round" stroke-linejoin="round"/>
<path d="M92.0 498.0C95.0 498.3 103.7 499.3 110.0 500.0C116.3 500.7 123.3 501.5 130.0 502.0C136.7 502.5 143.3 503.0 150.0 503.0C156.7 503.0 166.7 502.2 170.0 502.0" fill="none" stroke="#cdcdcd" stroke-width="0.8" stroke-linecap="round" stroke-linejoin="round"/>
<path d="M129.0 418.0C129.7 418.5 130.7 421.0 133.0 421.0C135.3 421.0 138.5 417.7 142.8 418.0C147.1 418.3 154.1 422.4 159.0 423.0C163.9 423.6 169.3 423.2 172.3 421.3C175.3 419.4 176.6 415.3 177.2 411.5C177.8 407.7 175.9 400.6 175.6 398.4" fill="none" stroke="#c8c8c8" stroke-width="3.3000000000000003" stroke-linecap="round" stroke-linejoin="round"/><path d="M129.0 418.0C129.7 418.5 130.7 421.0 133.0 421.0C135.3 421.0 138.5 417.7 142.8 418.0C147.1 418.3 154.1 422.4 159.0 423.0C163.9 423.6 169.3 423.2 172.3 421.3C175.3 419.4 176.6 415.3 177.2 411.5C177.8 407.7 175.9 400.6 175.6 398.4" fill="none" stroke="#f0f0f0" stroke-width="2.2" stroke-linecap="round" stroke-linejoin="round"/>
<path d="M167.0 386.0C167.8 388.0 169.8 394.8 172.0 398.0C174.2 401.2 178.2 404.7 180.0 405.0C181.8 405.3 183.3 402.5 183.0 400.0C182.7 397.5 179.3 392.7 178.0 390.0C176.7 387.3 175.5 385.0 175.0 384.0" fill="none" stroke="#c4c4c4" stroke-width="4.1" stroke-linecap="round" stroke-linejoin="round"/><path d="M167.0 386.0C167.8 388.0 169.8 394.8 172.0 398.0C174.2 401.2 178.2 404.7 180.0 405.0C181.8 405.3 183.3 402.5 183.0 400.0C182.7 397.5 179.3 392.7 178.0 390.0C176.7 387.3 175.5 385.0 175.0 384.0" fill="none" stroke="#e4e4e4" stroke-width="3" stroke-linecap="round" stroke-linejoin="round"/>
<path d="M138.0 394.0C139.7 393.3 145.0 391.7 148.0 390.0C151.0 388.3 154.7 385.0 156.0 384.0" fill="none" stroke="#c8c8c8" stroke-width="3.6" stroke-linecap="round" stroke-linejoin="round"/><path d="M138.0 394.0C139.7 393.3 145.0 391.7 148.0 390.0C151.0 388.3 154.7 385.0 156.0 384.0" fill="none" stroke="#e8e8e8" stroke-width="2.5" stroke-linecap="round" stroke-linejoin="round"/>
<path d="M156.0 430.0C156.7 432.5 158.8 440.0 160.0 445.0C161.2 450.0 162.0 455.8 163.0 460.0C164.0 464.2 165.5 468.3 166.0 470.0" fill="none" stroke="#c8c8c8" stroke-width="3.1" stroke-linecap="round" stroke-linejoin="round"/><path d="M156.0 430.0C156.7 432.5 158.8 440.0 160.0 445.0C161.2 450.0 162.0 455.8 163.0 460.0C164.0 464.2 165.5 468.3 166.0 470.0" fill="none" stroke="#f0f0f0" stroke-width="2" stroke-linecap="round" stroke-linejoin="round"/>
<path d="M160.0 500.0L168.0 493.0L170.0 500.0L162.0 508.0Z" fill="#d6d6d6" stroke="none" stroke-width="1"/>
<path d="M112.0 515.0L122.0 506.0L124.0 512.0L116.0 520.0Z" fill="#dcdcdc" stroke="none" stroke-width="1"/>
<path d="M150.0 488.0L158.0 480.0L160.0 486.0L152.0 494.0Z" fill="#d4d4d4" stroke="none" stroke-width="1"/>
<g opacity="0.58">
<path d="M66.0 382.0C66.7 384.2 68.7 391.2 70.0 395.0C71.3 398.8 72.8 402.0 74.0 405.0C75.2 408.0 76.5 411.7 77.0 413.0" fill="none" stroke="#ea6a6a" stroke-width="4.5"/>
<path d="M76.0 380.0C78.2 381.9 84.3 387.3 89.0 391.4C93.7 395.5 99.6 400.0 104.0 404.7C108.4 409.4 113.0 416.0 115.6 419.8C118.2 423.6 118.8 426.1 119.4 427.4" fill="none" stroke="#ea6a6a" stroke-width="10"/>
<path d="M119.4 427.4C120.3 428.0 120.6 429.4 125.0 431.0C129.4 432.6 141.7 434.6 145.8 436.8C149.9 439.0 149.3 440.9 149.6 444.4C149.9 447.9 148.0 455.4 147.7 457.6" fill="none" stroke="#ea6a6a" stroke-width="3.5"/>
<path d="M113.7 381.0C115.6 383.1 120.9 389.0 125.0 393.3C129.1 397.6 133.6 402.2 138.3 406.6C143.0 411.0 148.4 415.7 153.4 419.8C158.4 423.9 162.7 427.7 168.5 431.1C174.3 434.5 184.8 438.5 188.0 440.0" fill="none" stroke="#ea6a6a" stroke-width="4"/>
<path d="M58.9 417.9L68.3 414.1L85.4 412.2L81.0 418.0L90.0 424.0L100.0 432.0L100.0 440.0L92.0 446.0L80.0 452.0L70.0 455.0L62.0 448.0L60.0 435.0Z" fill="#ea6a6a" stroke="none" stroke-width="1"/>
<path d="M64.0 458.0C66.7 459.0 74.5 462.7 80.0 464.0C85.5 465.3 89.2 466.0 96.7 466.0C104.2 466.0 115.6 464.8 125.0 464.0C134.4 463.2 145.2 462.3 153.0 461.0C160.8 459.7 166.2 458.2 172.0 456.0C177.8 453.8 185.3 449.3 188.0 448.0" fill="none" stroke="#ea6a6a" stroke-width="11"/>
<path d="M92.0 440.0C95.0 440.7 103.7 442.7 110.0 444.0C116.3 445.3 122.8 446.8 130.0 448.0C137.2 449.2 146.0 450.8 153.0 451.0C160.0 451.2 166.2 450.3 172.0 449.0C177.8 447.7 185.3 444.0 188.0 443.0" fill="none" stroke="#ea6a6a" stroke-width="5"/>
<path d="M8.6 460.4C10.4 460.4 16.5 461.0 19.6 460.4C22.8 459.8 25.1 458.2 27.5 456.5C29.9 454.8 31.2 451.2 33.8 450.2C36.4 449.1 40.3 450.5 43.2 450.2C46.1 449.9 48.6 449.3 51.1 448.6C53.6 447.9 56.9 446.4 58.0 446.0" fill="none" stroke="#ea6a6a" stroke-width="2.8"/>
<path d="M48.0 426.0C48.3 427.7 49.2 432.7 50.0 436.0C50.8 439.3 52.5 444.3 53.0 446.0" fill="none" stroke="#ea6a6a" stroke-width="5"/>
<path d="M140.0 455.0C142.7 456.2 152.7 459.8 156.0 462.0C159.3 464.2 159.3 467.0 160.0 468.0" fill="none" stroke="#ea6a6a" stroke-width="6"/>
</g>
<path d="M65.5 418.0C64.9 418.7 62.9 420.7 62.0 422.0C61.1 423.3 60.3 425.3 60.0 426.0" fill="none" stroke="#6a6a6a" stroke-width="3" stroke-linecap="round" stroke-linejoin="round"/>
<path d="M60.0 425.0C59.8 426.2 58.8 428.8 58.9 432.0C59.0 435.2 59.8 441.1 60.8 444.4C61.8 447.7 63.5 449.7 65.0 452.0C66.5 454.3 69.2 457.0 70.0 458.0" fill="none" stroke="#a85454" stroke-width="2.8" stroke-linecap="round" stroke-linejoin="round"/>
<path d="M69.4 473.7C67.8 475.2 63.5 479.4 60.0 483.0C56.5 486.6 51.9 492.2 48.2 495.0C44.5 497.8 41.3 498.8 38.0 500.0C34.7 501.2 29.8 502.1 28.2 502.5" fill="none" stroke="#8e8e8e" stroke-width="2.2" stroke-linecap="round" stroke-linejoin="round"/>
<path d="M43.2 448.6C45.3 447.8 53.7 444.7 55.8 443.9" fill="none" stroke="#e60000" stroke-width="3" stroke-linecap="round" stroke-linejoin="round"/>
<path d="M45.0 451.0C46.5 450.8 52.5 450.2 54.0 450.0" fill="none" stroke="#e60000" stroke-width="2.9" stroke-linecap="round" stroke-linejoin="round"/>
<path d="M59.5 453.3C58.5 453.6 53.9 452.8 53.5 455.0C53.1 457.2 56.8 464.8 57.4 466.7" fill="none" stroke="#e60000" stroke-width="2.9" stroke-linecap="round"/>
<path d="M19.6 460.4C20.7 462.0 23.9 467.2 26.0 470.0C28.1 472.8 31.2 475.8 32.2 477.0" fill="none" stroke="#e60000" stroke-width="2.9" stroke-linecap="round" stroke-linejoin="round"/>
<path d="M26.0 472.0C27.3 471.0 32.7 467.0 34.0 466.0" fill="none" stroke="#e60000" stroke-width="2.9" stroke-linecap="round" stroke-linejoin="round"/>
<path d="M71.6 458L73.1 467.5L79.4 470.7L81 480L84.2 483.3" stroke="#e60000" stroke-width="2.7" fill="none" stroke-linejoin="round"/>
<path d="M84.2 483.3L93 484.5L98 485.5M96 483L100 481M96 487L99 490" stroke="#1010e0" stroke-width="2.6" fill="none" stroke-linecap="round"/>
<path d="M89 484L93 484.6" stroke="#e60000" stroke-width="2" fill="none"/>
<path d="M150.2 460.7L140.1 479.3L141.6 489.4L148 505.8M141.6 489.4L146 490L149.4 501.5L148 505.8M143 491L146.5 503" stroke="#e60000" stroke-width="2.8" fill="none" stroke-linejoin="round" stroke-linecap="round"/>
</g>
<clipPath id="clR"><rect x="226.5" y="383" width="173.5" height="152.5"/></clipPath>
<g clip-path="url(#clR)">
<path d="M228.0 388.0C229.3 387.7 233.0 385.3 236.0 386.0C239.0 386.7 243.0 389.7 246.0 392.0C249.0 394.3 252.3 397.3 254.0 400.0C255.7 402.7 255.7 406.7 256.0 408.0" fill="none" stroke="#c4c4c4" stroke-width="7.1" stroke-linecap="round" stroke-linejoin="round"/><path d="M228.0 388.0C229.3 387.7 233.0 385.3 236.0 386.0C239.0 386.7 243.0 389.7 246.0 392.0C249.0 394.3 252.3 397.3 254.0 400.0C255.7 402.7 255.7 406.7 256.0 408.0" fill="none" stroke="#e6e6e6" stroke-width="6" stroke-linecap="round" stroke-linejoin="round"/>
<path d="M232.0 396.0C233.3 397.3 237.7 401.7 240.0 404.0C242.3 406.3 245.0 409.0 246.0 410.0" fill="none" stroke="#c6c6c6" stroke-width="5.1" stroke-linecap="round" stroke-linejoin="round"/><path d="M232.0 396.0C233.3 397.3 237.7 401.7 240.0 404.0C242.3 406.3 245.0 409.0 246.0 410.0" fill="none" stroke="#e0e0e0" stroke-width="4" stroke-linecap="round" stroke-linejoin="round"/>
<path d="M228.0 430.0C229.3 431.7 234.0 435.8 236.0 440.0C238.0 444.2 239.7 450.0 240.0 455.0C240.3 460.0 238.3 467.5 238.0 470.0" fill="none" stroke="#cacaca" stroke-width="4.6" stroke-linecap="round" stroke-linejoin="round"/><path d="M228.0 430.0C229.3 431.7 234.0 435.8 236.0 440.0C238.0 444.2 239.7 450.0 240.0 455.0C240.3 460.0 238.3 467.5 238.0 470.0" fill="none" stroke="#ececec" stroke-width="3.5" stroke-linecap="round" stroke-linejoin="round"/>
<path d="M237.0 500.0C237.8 501.7 240.8 505.8 242.0 510.0C243.2 514.2 243.7 520.7 244.0 525.0C244.3 529.3 244.0 534.2 244.0 536.0" fill="none" stroke="#cacaca" stroke-width="8.1" stroke-linecap="round" stroke-linejoin="round"/><path d="M237.0 500.0C237.8 501.7 240.8 505.8 242.0 510.0C243.2 514.2 243.7 520.7 244.0 525.0C244.3 529.3 244.0 534.2 244.0 536.0" fill="none" stroke="#eeeeee" stroke-width="7" stroke-linecap="round" stroke-linejoin="round"/>
<path d="M228.0 520.0C229.0 521.0 232.7 523.3 234.0 526.0C235.3 528.7 235.7 534.3 236.0 536.0" fill="none" stroke="#cacaca" stroke-width="6.1" stroke-linecap="round" stroke-linejoin="round"/><path d="M228.0 520.0C229.0 521.0 232.7 523.3 234.0 526.0C235.3 528.7 235.7 534.3 236.0 536.0" fill="none" stroke="#eeeeee" stroke-width="5" stroke-linecap="round" stroke-linejoin="round"/>
<path d="M356.0 434.0C358.0 433.3 364.3 431.5 368.0 430.0C371.7 428.5 374.3 426.7 378.0 425.0C381.7 423.3 387.0 422.5 390.0 420.0C393.0 417.5 395.7 414.2 396.0 410.0C396.3 405.8 393.7 399.0 392.0 395.0C390.3 391.0 387.0 387.5 386.0 386.0" fill="none" stroke="#c8c8c8" stroke-width="3.5" stroke-linecap="round" stroke-linejoin="round"/><path d="M356.0 434.0C358.0 433.3 364.3 431.5 368.0 430.0C371.7 428.5 374.3 426.7 378.0 425.0C381.7 423.3 387.0 422.5 390.0 420.0C393.0 417.5 395.7 414.2 396.0 410.0C396.3 405.8 393.7 399.0 392.0 395.0C390.3 391.0 387.0 387.5 386.0 386.0" fill="none" stroke="#f0f0f0" stroke-width="2.4" stroke-linecap="round" stroke-linejoin="round"/>
<path d="M372.0 398.0C374.0 397.3 380.3 395.7 384.0 394.0C387.7 392.3 392.3 389.0 394.0 388.0" fill="none" stroke="#c8c8c8" stroke-width="3.5" stroke-linecap="round" stroke-linejoin="round"/><path d="M372.0 398.0C374.0 397.3 380.3 395.7 384.0 394.0C387.7 392.3 392.3 389.0 394.0 388.0" fill="none" stroke="#ececec" stroke-width="2.4" stroke-linecap="round" stroke-linejoin="round"/>
<path d="M355.0 470.0C356.7 472.5 362.5 480.0 365.0 485.0C367.5 490.0 368.8 495.0 370.0 500.0C371.2 505.0 371.7 512.5 372.0 515.0" fill="none" stroke="#cacaca" stroke-width="5.1" stroke-linecap="round" stroke-linejoin="round"/><path d="M355.0 470.0C356.7 472.5 362.5 480.0 365.0 485.0C367.5 490.0 368.8 495.0 370.0 500.0C371.2 505.0 371.7 512.5 372.0 515.0" fill="none" stroke="#f0f0f0" stroke-width="4" stroke-linecap="round" stroke-linejoin="round"/>
<path d="M380.0 470.0C381.3 473.3 385.7 483.3 388.0 490.0C390.3 496.7 393.0 506.7 394.0 510.0" fill="none" stroke="#cacaca" stroke-width="5.1" stroke-linecap="round" stroke-linejoin="round"/><path d="M380.0 470.0C381.3 473.3 385.7 483.3 388.0 490.0C390.3 496.7 393.0 506.7 394.0 510.0" fill="none" stroke="#f0f0f0" stroke-width="4" stroke-linecap="round" stroke-linejoin="round"/>
<ellipse cx="385" cy="514" rx="11" ry="13" fill="none" stroke="#c4c4c4" stroke-width="4.6"/><ellipse cx="385" cy="514" rx="11" ry="13" fill="none" stroke="#f7f7f7" stroke-width="3.5"/>
<ellipse cx="358" cy="522" rx="13" ry="9" fill="none" stroke="#c4c4c4" stroke-width="4.6"/><ellipse cx="358" cy="522" rx="13" ry="9" fill="none" stroke="#f7f7f7" stroke-width="3.5"/>
<ellipse cx="296" cy="523" rx="9" ry="9" fill="none" stroke="#c4c4c4" stroke-width="3.6"/><ellipse cx="296" cy="523" rx="9" ry="9" fill="none" stroke="#f7f7f7" stroke-width="2.5"/>
<path d="M260.0 470.0C261.7 473.3 267.3 484.2 270.0 490.0C272.7 495.8 274.3 500.0 276.0 505.0C277.7 510.0 279.3 517.5 280.0 520.0" fill="none" stroke="#cdcdcd" stroke-width="0.8" stroke-linecap="round" stroke-linejoin="round"/>
<path d="M250.0 475.0C251.3 478.3 256.0 487.5 258.0 495.0C260.0 502.5 261.3 515.8 262.0 520.0" fill="none" stroke="#cdcdcd" stroke-width="0.8" stroke-linecap="round" stroke-linejoin="round"/>
<path d="M300.0 470.0C303.3 471.7 313.3 477.3 320.0 480.0C326.7 482.7 333.3 484.3 340.0 486.0C346.7 487.7 356.7 489.3 360.0 490.0" fill="none" stroke="#cdcdcd" stroke-width="0.8" stroke-linecap="round" stroke-linejoin="round"/>
<path d="M318.0 495.0C320.0 495.8 325.7 497.5 330.0 500.0C334.3 502.5 340.7 506.7 344.0 510.0C347.3 513.3 349.0 518.3 350.0 520.0" fill="none" stroke="#cdcdcd" stroke-width="0.8" stroke-linecap="round" stroke-linejoin="round"/>
<path d="M296.0 425.0C297.7 426.2 303.3 428.7 306.0 432.0C308.7 435.3 311.0 442.8 312.0 445.0" fill="none" stroke="#cdcdcd" stroke-width="0.8" stroke-linecap="round" stroke-linejoin="round"/>
<path d="M342.0 495.0L352.0 494.0L353.0 510.0L345.0 514.0Z" fill="#e4e4e4" stroke="#c4c4c4" stroke-width="0.6"/>
<path d="M302.0 500.0L310.0 496.0L316.0 508.0L306.0 512.0Z" fill="#f0f0f0" stroke="#c4c4c4" stroke-width="0.6"/>
<g opacity="0.5">
<path d="M228.0 402.0L236.0 399.0L246.0 403.0L244.0 407.0L240.0 408.0Z" fill="#3ed43e" stroke="none" stroke-width="1"/>
<path d="M234.0 404.0C234.9 407.9 237.2 420.7 239.7 427.7C242.2 434.7 245.0 440.7 248.8 446.0C252.6 451.3 257.6 455.8 262.5 459.6C267.4 463.4 273.2 466.5 278.5 468.8C283.8 471.1 288.0 472.6 294.5 473.3C301.0 474.1 309.7 473.7 317.3 473.3C324.9 472.9 331.6 472.1 340.0 471.0C348.4 469.9 360.3 468.2 367.6 466.5C374.9 464.8 380.9 461.8 383.6 460.8" fill="none" stroke="#3ed43e" stroke-width="8"/>
<path d="M305.0 478.0L320.0 473.6L341.5 467.9L356.0 470.0L362.0 477.0L350.0 484.0L337.0 486.5L320.0 482.0Z" fill="#3ed43e" stroke="none" stroke-width="1"/>
<path d="M279.0 380.0C279.7 382.0 280.8 387.8 283.0 392.0C285.2 396.2 288.7 400.5 292.0 405.0C295.3 409.5 300.3 415.7 303.0 419.0C305.7 422.3 307.2 424.0 308.0 425.0" fill="none" stroke="#3ed43e" stroke-width="14"/>
<path d="M322.0 380.0C322.7 382.3 324.7 389.7 326.0 394.0C327.3 398.3 328.2 402.0 330.0 406.0C331.8 410.0 335.2 414.2 337.0 418.0C338.8 421.8 340.0 425.2 341.0 429.0C342.0 432.8 342.7 439.0 343.0 441.0" fill="none" stroke="#3ed43e" stroke-width="13"/>
<path d="M303.0 405.0C304.3 403.7 308.3 399.5 311.0 397.0C313.7 394.5 317.7 391.2 319.0 390.0" fill="none" stroke="#3ed43e" stroke-width="8"/>
<path d="M351.0 382.0L377.0 382.0L377.0 392.0L366.0 403.0L358.0 394.0Z" fill="#3ed43e" stroke="none" stroke-width="1"/>
<path d="M365.0 400.0C365.3 402.2 367.0 408.2 367.0 413.0C367.0 417.8 366.5 424.7 365.0 429.0C363.5 433.3 360.5 436.2 358.0 439.0C355.5 441.8 351.3 444.8 350.0 446.0" fill="none" stroke="#3ed43e" stroke-width="6.5"/>
<path d="M299.0 425.4C302.2 426.2 311.9 428.5 318.0 430.0C324.1 431.5 332.7 433.8 335.6 434.5" fill="none" stroke="#3ed43e" stroke-width="6"/>
<path d="M252.0 452.0C255.0 452.7 263.7 455.2 270.0 456.0C276.3 456.8 286.7 456.8 290.0 457.0" fill="none" stroke="#3ed43e" stroke-width="6"/>
<path d="M236.0 412.0C237.3 413.3 239.7 416.7 244.0 420.0C248.3 423.3 259.0 430.0 262.0 432.0" fill="none" stroke="#3ed43e" stroke-width="6"/>
</g>
<path d="M285.7 425.4C284.9 427.4 281.7 433.3 281.2 437.2C280.7 441.1 280.7 444.6 282.7 449.0C284.7 453.4 290.5 459.4 293.0 463.9C295.5 468.3 297.5 471.3 297.5 475.7C297.5 480.1 295.7 486.1 293.0 490.5C290.3 494.9 285.6 498.9 281.2 502.4C276.8 505.9 271.1 509.1 266.4 511.3C261.7 513.5 255.2 515.0 253.0 515.7" fill="none" stroke="#767676" stroke-width="3" stroke-linecap="round" stroke-linejoin="round"/>
<path d="M230.6 460.6L242 462.8M242 462.8L246.6 450.3" stroke="#18e018" stroke-width="2.9" fill="none" stroke-linecap="round" stroke-linejoin="round"/>
<path d="M242 462.8L248.8 464.7" stroke="#d00000" stroke-width="2.9" fill="none" stroke-linecap="round" stroke-linejoin="round"/>
<path d="M262.5 464L278.5 453.7L283 449" stroke="#18e018" stroke-width="2.9" fill="none" stroke-linecap="round" stroke-linejoin="round"/>
<path d="M283 449L289 440.5M279 453L281 456.5" stroke="#d00000" stroke-width="2.7" fill="none" stroke-linecap="round" stroke-linejoin="round"/>
<path d="M278.5 467.4L271.7 485.7" stroke="#18e018" stroke-width="2.9" fill="none" stroke-linecap="round" stroke-linejoin="round"/>
<path d="M267 484.5L272 482L284.5 497.5L285 500.5L280 500L267 487Z" fill="none" stroke="#18e018" stroke-width="3.2" stroke-linejoin="round"/>
<path d="M317.3 427.7L311.6 448.2L318.5 455" stroke="#18e018" stroke-width="2.9" fill="none" stroke-linecap="round" stroke-linejoin="round"/>
<path d="M318.5 455L324 455.5L330 462L328.8 469.7L322 470L318.5 463Z" fill="none" stroke="#18e018" stroke-width="2.7" stroke-linejoin="round"/>
<path d="M323 455L327 459M328.8 466L328.8 470L325 470" stroke="#1010e0" stroke-width="2.6" fill="none"/>
</g>
<!-- ============ PANEL A header ============ -->
<text x="2.3" y="20" font-size="24" font-weight="bold">A</text>
<text x="104.2" y="20" font-size="19.3">Interaction Energy (kcal/mol)</text>
<text x="103.5" y="47.6" font-size="18.5">0</text>
<rect x="125" y="32.5" width="212" height="20" fill="url(#cb)"/>
<text x="348.8" y="48" font-size="18.5">-70</text>

<g font-size="19.5">
<text x="17.8" y="91">Model 1-5</text>
<text x="162" y="91.4">Model 2</text>
<text x="297.1" y="91.4">Model 4</text>
<text x="25.6" y="240.4">Model 1</text>
<text x="161.7" y="240.5">Model 3</text>
<text x="296.5" y="240.5">Model 5</text>
<text x="60.3" y="370">Model 1</text>
<text x="276.5" y="370">Model 5</text>
</g>

<!-- ============ PANEL B ============ -->
<text x="412.8" y="20.6" font-size="24" font-weight="bold">B</text>
<g stroke="#333" stroke-width="1.3" fill="none">
<line x1="479.5" y1="48" x2="479.5" y2="240"/>
<line x1="474.5" y1="48" x2="479.5" y2="48"/>
<line x1="474.5" y1="89.3" x2="479.5" y2="89.3"/>
<line x1="474.5" y1="130.6" x2="479.5" y2="130.6"/>
<line x1="474.5" y1="171.9" x2="479.5" y2="171.9"/>
<line x1="477" y1="68.6" x2="479.5" y2="68.6"/>
<line x1="477" y1="109.9" x2="479.5" y2="109.9"/>
<line x1="477" y1="151.2" x2="479.5" y2="151.2"/>
<line x1="477" y1="192.5" x2="479.5" y2="192.5"/>

<line x1="477" y1="234.5" x2="734" y2="234.5"/>
<line x1="509.5" y1="234.5" x2="509.5" y2="240"/>
<line x1="553.5" y1="234.5" x2="553.5" y2="240"/>
<line x1="603" y1="234.5" x2="603" y2="240"/>
<line x1="654" y1="234.5" x2="654" y2="240"/>
<line x1="704" y1="234.5" x2="704" y2="240"/>
</g>
<g font-size="15" text-anchor="end">
<text x="469" y="53.6">40</text>
<text x="469" y="94.9">30</text>
<text x="469" y="136.2">20</text>
<text x="469" y="177.5">10</text>
<text x="467" y="218">0</text>
</g>
<text transform="translate(438.2,149) rotate(-90)" text-anchor="middle" font-size="15.9">Activity (nmol/min/mg)</text>
<g font-size="16">
<text x="427.5" y="258.5">Model:</text>
<g text-anchor="middle">
<text x="510.3" y="258.5">WT</text>
<text x="555.3" y="258.5">1-</text>
<text x="604.8" y="258.5">1+</text>
<text x="655.8" y="258.5">5-</text>
<text x="705.8" y="258.5">5+</text>
</g>
</g>
<!-- bars -->
<g stroke="#222" stroke-width="1.2" fill="none">
<rect x="497.5" y="193.5" width="24" height="20.1"/>
<rect x="541.5" y="213.6" width="23.8" height="5.3"/>
<rect x="590.5" y="188.6" width="24.1" height="25"/>
<rect x="641.5" y="111.3" width="24" height="102.3"/>
<rect x="691.4" y="173.3" width="24.8" height="40.3"/>
<!-- error bars -->
<path d="M510.2 188.6V199.2M507.6 188.6H512.8M507.6 199.2H512.8"/>
<path d="M553.8 210.3V226.8M551.2 210.3H556.4M551.2 226.8H556.4"/>
<path d="M603.2 166.5V210.3M600.6 166.5H605.8M600.6 210.3H605.8"/>
<path d="M653.8 99.5V123.4M651 99.5H656.6M651 123.4H656.6"/>
<path d="M703.8 164.3V182.4M701.2 164.3H706.4M701.2 182.4H706.4"/>
<!-- circles -->
<circle cx="503.6" cy="188.2" r="2.6"/><circle cx="503.6" cy="194.6" r="2.6"/><circle cx="503.6" cy="198.7" r="2.6"/>
<circle cx="546.6" cy="210.3" r="2.6"/><circle cx="546.6" cy="218.9" r="2.6"/><circle cx="546.6" cy="226.4" r="2.6"/>
<circle cx="596.2" cy="164.3" r="2.6"/><circle cx="596.2" cy="194.1" r="2.6"/><circle cx="596.2" cy="207.3" r="2.6"/>
<circle cx="646.3" cy="98.5" r="2.6"/><circle cx="646.3" cy="114.2" r="2.6"/><circle cx="646.3" cy="122" r="2.6"/>
<circle cx="696.1" cy="166" r="2.6"/><circle cx="696.1" cy="170" r="2.6"/><circle cx="696.1" cy="183.7" r="2.6"/>
<!-- bracket -->
<path d="M509.7 173V76.4H653.5V91.1"/>
</g>
<line x1="474.5" y1="213.7" x2="734" y2="213.7" stroke="#5a5a5a" stroke-width="1.6"/>
<path d="M580.50 69.00L580.50 65.70M580.50 69.00L583.64 67.98M580.50 69.00L582.44 71.67M580.50 69.00L578.56 71.67M580.50 69.00L577.36 67.98" stroke="#000" stroke-width="1.5" stroke-linecap="round" fill="none"/>

<!-- ============ PANEL C ============ -->
<text x="411.5" y="321.2" font-size="24" font-weight="bold">C</text>
<!-- FRET sensor icon -->
<g stroke="#000">
<line x1="420" y1="366" x2="420" y2="432" stroke-width="2.6"/>
<ellipse cx="420" cy="365.6" rx="4" ry="2.8" fill="#555" stroke-width="1.6"/>
<rect x="417" y="371.2" width="6" height="9.8" rx="3" fill="#6fc8e0" stroke-width="1.6"/>
<rect x="417.1" y="431.5" width="6.4" height="10.2" rx="3" fill="#f2e300" stroke-width="1.6"/>
<path d="M421 444 C416 443 414.6 447 415 452 C415.4 460 417 468.5 424 469.5 C430 470 432.5 465 432 459 C431.5 453 427 451.5 424 452.5 C426.5 450 427 447 425 445 C424 444 422.5 444 421 444 Z" fill="#a8a8a8" stroke-width="1.5"/>
</g>
<g stroke="#333" stroke-width="1.3" fill="none">
<line x1="480.6" y1="327.5" x2="480.6" y2="503"/>
<line x1="477" y1="337" x2="480.6" y2="337"/>
<line x1="477" y1="410.8" x2="480.6" y2="410.8"/>
<line x1="477" y1="447.7" x2="480.6" y2="447.7"/>
<line x1="477" y1="484.6" x2="480.6" y2="484.6"/>

<line x1="480.6" y1="503" x2="696" y2="503"/>
<line x1="508" y1="503" x2="508" y2="506.5"/>
<line x1="561" y1="503" x2="561" y2="506.5"/>
<line x1="614" y1="503" x2="614" y2="506.5"/>
<line x1="666.2" y1="503" x2="666.2" y2="506.5"/>
</g>
<g font-size="14.5" text-anchor="end">
<text x="475" y="342">0.1</text>
<text x="475" y="379">0.0</text>
<text x="475" y="415.8">-0.1</text>
<text x="475" y="452.7">-0.2</text>
<text x="475" y="489.6">-0.3</text>
</g>
<text transform="translate(446.8,410.6) rotate(-90)" text-anchor="middle" font-size="14.3">ΔFRET (Mut-WT)</text>
<!-- right axis -->
<g stroke="#8a8a8a" stroke-width="1.3" fill="none">
<line x1="695.8" y1="319.8" x2="695.8" y2="503"/>
<path d="M695.8 319.8h2M695.8 330.4h3.5M695.8 341.2h2M695.8 352h3.5M695.8 362.7h2M695.8 373.8h3.5M695.8 384.6h2M695.8 395.5h3.5M695.8 406.3h2M695.8 417.2h3.5M695.8 428h2M695.8 438.9h3.5M695.8 449.7h2M695.8 460.6h3.5M695.8 471.4h2M695.8 482.3h3.5M695.8 493.1h2M695.8 503h3.5"/>
</g>
<g font-size="14" fill="#8a8a8a" style="color:#8a8a8a" text-anchor="end">
<text x="729" y="333.5">200</text>
<text x="729" y="355.2">100</text>
<text x="729" y="376.9">0</text>
<text x="729" y="398.6">-100</text>
<text x="729" y="420.3">-200</text>
<text x="729" y="442">-300</text>
<text x="729" y="463.7">-400</text>
<text x="729" y="485.4">-500</text>
<text x="729" y="507.1">-600</text>
</g>
<g fill="#8a8a8a" style="color:#8a8a8a" font-size="14.2" text-anchor="middle">
<text transform="translate(749.7,412.3) rotate(90)">Δ Interaction Energy (WT-Mut)</text>
<text transform="translate(732,415) rotate(90)">(kCal/mol)</text>
</g>
<!-- C bars -->
<g stroke="#222" stroke-width="1.2" fill="none">
<rect x="487.4" y="373.9" width="21.2" height="44.5"/>
<rect x="539.3" y="358.6" width="21.8" height="15.3"/>
<rect x="591.7" y="373.9" width="21.8" height="34.4"/>
<rect x="647" y="370.4" width="18.6" height="3.5"/>
<path d="M498.2 401.6V435.9M496.5 401.6H499.9M496.5 435.9H499.9"/>
<path d="M550.3 357V360.6M548.4 357H552.2M548.4 360.6H552.2"/>
<path d="M602.4 398.4V417.5M600.5 398.4H604.5M600.5 417.5H604.5"/>
<path d="M656.4 353.2V387.2M654.5 353.2H658.5M654.5 387.2H658.5"/>
<g stroke-width="1.1">
<circle cx="491.9" cy="405" r="1.9"/><circle cx="491.9" cy="413.2" r="1.9"/><circle cx="491.9" cy="437.8" r="1.9"/>
<circle cx="542" cy="356" r="1.9"/><circle cx="541.8" cy="360.5" r="1.9"/><circle cx="545.9" cy="359.3" r="1.9"/>
<circle cx="595.9" cy="398.8" r="1.9"/><circle cx="595.9" cy="408.3" r="1.9"/><circle cx="595.9" cy="417.7" r="1.9"/>
<circle cx="652.2" cy="358.6" r="1.9"/><circle cx="652.2" cy="361.9" r="1.9"/><circle cx="652.2" cy="389.9" r="1.9"/>
</g>
</g>
<!-- gray boxes -->
<g stroke="#b4b4b4" stroke-width="1.1" fill="none">
<path d="M521.7 378.2V391.3M521.7 397.7V408.7M520.5 378.2h2.4M520.5 408.7h2.4"/>
<path d="M574.1 325.7V341.4M574.1 346.5V362.2M572.9 325.7h2.4M572.9 362.2h2.4"/>
<path d="M626.3 388.3V397.3M626.3 400.5V409.6M625.1 388.3h2.4M625.1 409.6h2.4"/>
<path d="M677.6 344.7V355.2M677.6 358.6V368.9M676.4 344.7h2.4M676.4 368.9h2.4"/>
</g>
<g stroke="#9c9c9c" stroke-width="1.2" fill="none">
<rect x="511.3" y="391.3" width="21.3" height="6.4"/><line x1="511.3" y1="395.3" x2="532.6" y2="395.3"/>
<rect x="563.4" y="341.4" width="21.6" height="5.1"/>
<rect x="615.3" y="397.3" width="22.2" height="3.2"/>
<rect x="666.7" y="355.2" width="21.7" height="3.4"/>
</g>
<g fill="#b0b0b0">
<circle cx="521.7" cy="393.4" r="1.1"/><circle cx="574.1" cy="343.9" r="1.1"/><circle cx="626.3" cy="398.9" r="0.9"/><circle cx="677.6" cy="356.9" r="0.9"/>
</g>
<line x1="477" y1="374" x2="696" y2="374" stroke="#5a5a5a" stroke-width="1.8"/>
<path d="M498.20 442.80L498.20 440.20M498.20 442.80L500.67 442.00M498.20 442.80L499.73 444.90M498.20 442.80L496.67 444.90M498.20 442.80L495.73 442.00" stroke="#000" stroke-width="1.4" stroke-linecap="round" fill="none"/>
<path d="M546.70 345.20L546.70 342.60M546.70 345.20L549.17 344.40M546.70 345.20L548.23 347.30M546.70 345.20L545.17 347.30M546.70 345.20L544.23 344.40" stroke="#000" stroke-width="1.4" stroke-linecap="round" fill="none"/>
<path d="M553.50 345.20L553.50 342.60M553.50 345.20L555.97 344.40M553.50 345.20L555.03 347.30M553.50 345.20L551.97 347.30M553.50 345.20L551.03 344.40" stroke="#000" stroke-width="1.4" stroke-linecap="round" fill="none"/>
<path d="M603.50 426.80L603.50 424.20M603.50 426.80L605.97 426.00M603.50 426.80L605.03 428.90M603.50 426.80L601.97 428.90M603.50 426.80L601.03 426.00" stroke="#000" stroke-width="1.4" stroke-linecap="round" fill="none"/>
<path d="M511.70 424.40L511.70 421.80M511.70 424.40L514.17 423.60M511.70 424.40L513.23 426.50M511.70 424.40L510.17 426.50M511.70 424.40L509.23 423.60" stroke="#9a9a9a" stroke-width="1.4" stroke-linecap="round" fill="none"/>
<path d="M518.60 424.40L518.60 421.80M518.60 424.40L521.07 423.60M518.60 424.40L520.13 426.50M518.60 424.40L517.07 426.50M518.60 424.40L516.13 423.60" stroke="#9a9a9a" stroke-width="1.4" stroke-linecap="round" fill="none"/>
<path d="M525.50 424.40L525.50 421.80M525.50 424.40L527.97 423.60M525.50 424.40L527.03 426.50M525.50 424.40L523.97 426.50M525.50 424.40L523.03 423.60" stroke="#9a9a9a" stroke-width="1.4" stroke-linecap="round" fill="none"/>
<path d="M532.40 424.40L532.40 421.80M532.40 424.40L534.87 423.60M532.40 424.40L533.93 426.50M532.40 424.40L530.87 426.50M532.40 424.40L529.93 423.60" stroke="#9a9a9a" stroke-width="1.4" stroke-linecap="round" fill="none"/>
<path d="M563.40 318.30L563.40 315.70M563.40 318.30L565.87 317.50M563.40 318.30L564.93 320.40M563.40 318.30L561.87 320.40M563.40 318.30L560.93 317.50" stroke="#9a9a9a" stroke-width="1.4" stroke-linecap="round" fill="none"/>
<path d="M570.30 318.30L570.30 315.70M570.30 318.30L572.77 317.50M570.30 318.30L571.83 320.40M570.30 318.30L568.77 320.40M570.30 318.30L567.83 317.50" stroke="#9a9a9a" stroke-width="1.4" stroke-linecap="round" fill="none"/>
<path d="M577.20 318.30L577.20 315.70M577.20 318.30L579.67 317.50M577.20 318.30L578.73 320.40M577.20 318.30L575.67 320.40M577.20 318.30L574.73 317.50" stroke="#9a9a9a" stroke-width="1.4" stroke-linecap="round" fill="none"/>
<path d="M584.10 318.30L584.10 315.70M584.10 318.30L586.57 317.50M584.10 318.30L585.63 320.40M584.10 318.30L582.57 320.40M584.10 318.30L581.63 317.50" stroke="#9a9a9a" stroke-width="1.4" stroke-linecap="round" fill="none"/>
<path d="M616.20 416.90L616.20 414.30M616.20 416.90L618.67 416.10M616.20 416.90L617.73 419.00M616.20 416.90L614.67 419.00M616.20 416.90L613.73 416.10" stroke="#9a9a9a" stroke-width="1.4" stroke-linecap="round" fill="none"/>
<path d="M623.10 416.90L623.10 414.30M623.10 416.90L625.57 416.10M623.10 416.90L624.63 419.00M623.10 416.90L621.57 419.00M623.10 416.90L620.63 416.10" stroke="#9a9a9a" stroke-width="1.4" stroke-linecap="round" fill="none"/>
<path d="M630.00 416.90L630.00 414.30M630.00 416.90L632.47 416.10M630.00 416.90L631.53 419.00M630.00 416.90L628.47 419.00M630.00 416.90L627.53 416.10" stroke="#9a9a9a" stroke-width="1.4" stroke-linecap="round" fill="none"/>
<path d="M636.90 416.90L636.90 414.30M636.90 416.90L639.37 416.10M636.90 416.90L638.43 419.00M636.90 416.90L635.37 419.00M636.90 416.90L634.43 416.10" stroke="#9a9a9a" stroke-width="1.4" stroke-linecap="round" fill="none"/>
<path d="M667.10 336.70L667.10 334.10M667.10 336.70L669.57 335.90M667.10 336.70L668.63 338.80M667.10 336.70L665.57 338.80M667.10 336.70L664.63 335.90" stroke="#9a9a9a" stroke-width="1.4" stroke-linecap="round" fill="none"/>
<path d="M674.00 336.70L674.00 334.10M674.00 336.70L676.47 335.90M674.00 336.70L675.53 338.80M674.00 336.70L672.47 338.80M674.00 336.70L671.53 335.90" stroke="#9a9a9a" stroke-width="1.4" stroke-linecap="round" fill="none"/>
<path d="M680.90 336.70L680.90 334.10M680.90 336.70L683.37 335.90M680.90 336.70L682.43 338.80M680.90 336.70L679.37 338.80M680.90 336.70L678.43 335.90" stroke="#9a9a9a" stroke-width="1.4" stroke-linecap="round" fill="none"/>
<path d="M687.80 336.70L687.80 334.10M687.80 336.70L690.27 335.90M687.80 336.70L689.33 338.80M687.80 336.70L686.27 338.80M687.80 336.70L685.33 335.90" stroke="#9a9a9a" stroke-width="1.4" stroke-linecap="round" fill="none"/>
<g font-size="10.6">
<text x="423" y="522.6" font-size="14">Model 5:</text>
<g text-anchor="middle">
<text x="508" y="517">F56K</text>
<text x="562.5" y="517">F56K/G59R/</text>
<text x="562.3" y="530">G64F</text>
<text x="613.5" y="517">T54F</text>
<text x="666.8" y="517">T54F/D55N/</text>
<text x="667" y="530">H75W</text>
</g>
</g>

<!-- ============ bottom boxes (Panel A) ============ -->
<rect x="8" y="382.5" width="175.5" height="153.5" fill="none" stroke="#111" stroke-width="1.3"/>
<rect x="226" y="382.5" width="174.5" height="153.5" fill="none" stroke="#111" stroke-width="1.3"/>

<g font-size="20">
<text x="21.2" y="439">C53</text>
<text x="38.6" y="486">C78</text>
<text x="12.6" y="506">T83</text>
<text x="92.2" y="508.4">R77</text>
<text x="135" y="526">F60</text>
<text x="246.8" y="436.8">D55</text>
<text x="331.4" y="459.5">H75</text>
<text x="231.6" y="485.3">T54</text>
<text x="289" y="510.8">F56</text>
</g>
</svg>
</body></html>
